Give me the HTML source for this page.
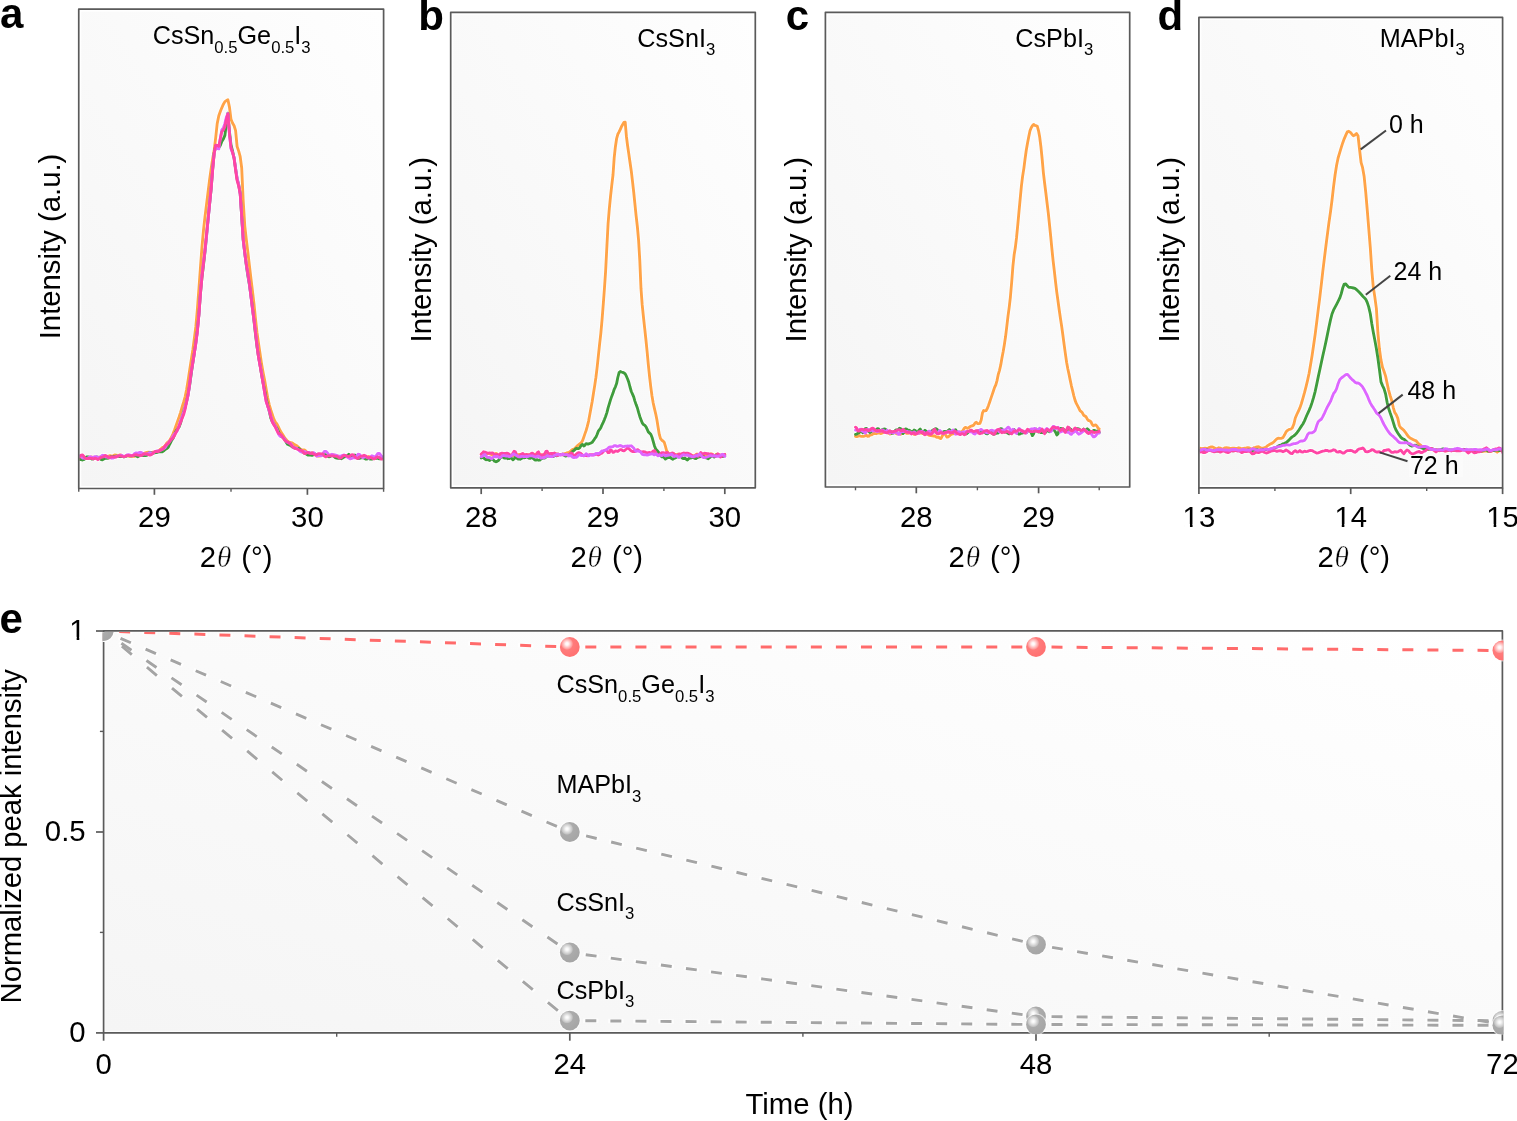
<!DOCTYPE html>
<html><head><meta charset="utf-8"><title>Figure</title><style>html,body{margin:0;padding:0;background:#ffffff;overflow:hidden}svg{display:block}text{fill:#000}</style></head><body>
<svg width="1517" height="1121" viewBox="0 0 1517 1121" font-family="'Liberation Sans', Arial, Helvetica, sans-serif">
<defs>
<linearGradient id="gp" x1="1" y1="0" x2="0" y2="1"><stop offset="0" stop-color="#fefefe"/><stop offset="1" stop-color="#f5f5f5"/></linearGradient>
<linearGradient id="ge" x1="1" y1="0" x2="0" y2="1"><stop offset="0" stop-color="#ffffff"/><stop offset="1" stop-color="#f5f5f5"/></linearGradient>
<radialGradient id="ballr" cx="0.36" cy="0.34" r="0.62" fx="0.36" fy="0.34"><stop offset="0" stop-color="#ffffff"/><stop offset="0.12" stop-color="#fff4f4"/><stop offset="0.42" stop-color="#ff9d9d"/><stop offset="0.5" stop-color="#ff7b7b"/><stop offset="1" stop-color="#ff7272"/></radialGradient>
<radialGradient id="ballg" cx="0.36" cy="0.34" r="0.62" fx="0.36" fy="0.34"><stop offset="0" stop-color="#ffffff"/><stop offset="0.12" stop-color="#f6f6f6"/><stop offset="0.42" stop-color="#c4c4c4"/><stop offset="0.5" stop-color="#ababab"/><stop offset="1" stop-color="#a6a6a6"/></radialGradient>
</defs>
<rect width="1517" height="1121" fill="#ffffff"/>
<defs>
<clipPath id="clipa"><rect x="79.55" y="9.95" width="303.25" height="477.75"/></clipPath>
<clipPath id="clipb"><rect x="451.50" y="13.10" width="303.00" height="473.90"/></clipPath>
<clipPath id="clipc"><rect x="826.20" y="13.10" width="302.70" height="473.10"/></clipPath>
<clipPath id="clipd"><rect x="1199.70" y="18.20" width="302.10" height="468.80"/></clipPath>
<clipPath id="clipe"><rect x="102.6" y="632.1" width="1400.8" height="402.2"/></clipPath>
</defs>
<rect x="81.25" y="11.65" width="299.85" height="474.35" fill="url(#gp)"/>
<rect x="453.20" y="14.80" width="299.60" height="470.50" fill="url(#gp)"/>
<rect x="827.90" y="14.80" width="299.30" height="469.70" fill="url(#gp)"/>
<rect x="1201.40" y="19.90" width="298.70" height="465.40" fill="url(#gp)"/>
<g clip-path="url(#clipa)" fill="none" stroke-linejoin="round" stroke-linecap="round">
<path d="M78.0 458.1 L79.5 458.9 L81.1 458.7 L82.6 457.6 L84.1 457.0 L85.7 457.3 L87.2 457.7 L88.7 457.9 L90.2 457.3 L91.8 457.0 L93.3 457.8 L94.8 458.1 L96.4 457.7 L97.9 457.3 L99.4 457.1 L101.0 457.7 L102.5 457.8 L104.0 457.2 L105.5 457.1 L107.1 457.1 L108.6 456.1 L110.1 455.7 L111.7 456.3 L113.2 455.8 L114.7 454.9 L116.3 455.2 L117.8 455.5 L119.3 455.0 L120.8 455.0 L122.4 456.1 L123.9 456.8 L125.4 456.0 L127.0 455.6 L128.5 456.2 L130.0 456.4 L131.6 456.0 L133.1 456.3 L134.6 456.3 L136.1 455.3 L137.7 454.7 L139.2 455.0 L140.7 455.5 L142.3 455.0 L143.8 453.6 L145.3 452.9 L146.9 452.5 L148.4 452.1 L149.9 452.7 L151.4 452.7 L153.0 452.1 L154.5 452.4 L156.0 452.0 L157.6 451.0 L159.1 450.4 L160.6 449.2 L162.2 447.7 L163.7 447.2 L165.2 445.7 L166.7 443.1 L168.3 441.7 L169.8 440.1 L171.3 437.6 L172.9 434.1 L174.4 430.3 L175.9 426.1 L177.5 421.6 L179.0 417.3 L180.5 412.6 L182.0 407.5 L183.6 402.2 L185.1 396.8 L186.6 389.5 L188.2 379.8 L189.7 369.8 L191.2 360.2 L192.8 350.0 L194.3 338.6 L195.8 326.9 L197.3 310.1 L198.9 288.9 L200.4 268.1 L201.9 247.7 L203.5 230.1 L205.0 216.7 L206.5 204.6 L208.1 191.7 L209.6 179.6 L211.1 168.9 L212.6 159.3 L214.2 150.0 L215.7 137.7 L217.2 123.6 L218.8 115.8 L220.3 111.6 L221.8 107.8 L223.4 104.2 L224.9 101.6 L226.4 100.6 L227.9 99.8 L229.5 107.4 L231.0 119.4 L232.5 123.0 L234.1 125.8 L235.6 130.6 L237.1 146.5 L238.7 151.1 L240.2 156.7 L241.7 168.0 L243.2 200.7 L244.8 226.1 L246.3 239.5 L247.8 251.6 L249.4 265.3 L250.9 278.1 L252.4 290.3 L254.0 303.8 L255.5 318.9 L257.0 332.4 L258.5 343.2 L260.1 354.0 L261.6 364.1 L263.1 372.5 L264.7 380.6 L266.2 389.2 L267.7 397.7 L269.3 404.8 L270.8 409.9 L272.3 414.5 L273.8 419.0 L275.4 422.2 L276.9 424.0 L278.4 426.9 L280.0 430.4 L281.5 432.7 L283.0 435.0 L284.6 437.5 L286.1 439.5 L287.6 441.1 L289.1 442.2 L290.7 442.6 L292.2 443.0 L293.7 444.0 L295.3 444.9 L296.8 445.8 L298.3 447.1 L299.9 448.7 L301.4 449.8 L302.9 449.9 L304.4 449.9 L306.0 451.2 L307.5 452.7 L309.0 453.5 L310.6 453.4 L312.1 452.6 L313.6 453.3 L315.2 455.0 L316.7 455.6 L318.2 456.2 L319.7 456.0 L321.3 454.8 L322.8 454.8 L324.3 455.5 L325.9 455.8 L327.4 455.8 L328.9 455.8 L330.5 455.2 L332.0 454.7 L333.5 454.9 L335.0 455.4 L336.6 455.7 L338.1 456.1 L339.6 456.8 L341.2 457.2 L342.7 457.0 L344.2 456.9 L345.8 456.6 L347.3 456.4 L348.8 456.4 L350.3 456.6 L351.9 457.1 L353.4 457.4 L354.9 457.1 L356.5 456.8 L358.0 457.2 L359.5 456.9 L361.1 456.6 L362.6 456.9 L364.1 457.2 L365.6 457.4 L367.2 457.0 L368.7 456.5 L370.2 457.3 L371.8 458.4 L373.3 457.9 L374.8 457.1 L376.4 457.0 L377.9 457.5 L379.4 458.1 L380.9 457.7 L382.5 458.0 L384.0 458.0 L385.0 457.2" stroke="#ffffff" stroke-opacity="0.75" stroke-width="4.65"/>
<path d="M78.0 458.8 L79.5 459.6 L81.1 459.7 L82.6 460.0 L84.1 459.5 L85.7 457.8 L87.2 456.8 L88.7 456.9 L90.2 458.1 L91.8 459.1 L93.3 458.9 L94.8 457.8 L96.4 456.9 L97.9 457.1 L99.4 458.1 L101.0 459.5 L102.5 459.8 L104.0 458.9 L105.5 458.3 L107.1 458.3 L108.6 458.1 L110.1 457.1 L111.7 456.6 L113.2 456.6 L114.7 456.3 L116.3 456.2 L117.8 456.3 L119.3 456.6 L120.8 456.7 L122.4 456.4 L123.9 456.8 L125.4 456.6 L127.0 455.7 L128.5 455.5 L130.0 455.9 L131.6 455.8 L133.1 455.3 L134.6 455.0 L136.1 455.8 L137.7 456.8 L139.2 455.9 L140.7 455.1 L142.3 455.5 L143.8 455.5 L145.3 455.5 L146.9 455.3 L148.4 453.7 L149.9 452.3 L151.4 452.9 L153.0 453.4 L154.5 452.8 L156.0 452.7 L157.6 452.4 L159.1 451.5 L160.6 451.8 L162.2 451.9 L163.7 450.8 L165.2 449.5 L166.7 448.6 L168.3 447.1 L169.8 444.0 L171.3 441.1 L172.9 438.6 L174.4 434.9 L175.9 431.3 L177.5 429.1 L179.0 427.2 L180.5 423.3 L182.0 417.3 L183.6 411.8 L185.1 407.2 L186.6 401.5 L188.2 394.1 L189.7 385.0 L191.2 374.3 L192.8 363.4 L194.3 353.3 L195.8 342.6 L197.3 330.9 L198.9 314.6 L200.4 294.2 L201.9 278.1 L203.5 265.0 L205.0 252.0 L206.5 236.3 L208.1 219.2 L209.6 204.0 L211.1 189.6 L212.6 170.1 L214.2 152.7 L215.7 146.2 L217.2 147.0 L218.8 147.7 L220.3 145.5 L221.8 141.4 L223.4 138.9 L224.9 135.4 L226.4 123.2 L227.9 113.1 L229.5 132.0 L231.0 144.9 L232.5 150.8 L234.1 158.1 L235.6 168.7 L237.1 178.8 L238.7 184.7 L240.2 193.5 L241.7 217.0 L243.2 240.4 L244.8 253.6 L246.3 265.4 L247.8 275.5 L249.4 284.7 L250.9 295.4 L252.4 307.5 L254.0 321.1 L255.5 334.5 L257.0 346.7 L258.5 356.6 L260.1 365.3 L261.6 374.7 L263.1 382.9 L264.7 390.7 L266.2 399.0 L267.7 405.3 L269.3 411.5 L270.8 418.1 L272.3 421.7 L273.8 424.1 L275.4 426.6 L276.9 428.3 L278.4 431.5 L280.0 435.3 L281.5 436.8 L283.0 437.4 L284.6 439.2 L286.1 442.2 L287.6 444.3 L289.1 445.0 L290.7 445.6 L292.2 446.9 L293.7 447.6 L295.3 448.2 L296.8 448.6 L298.3 448.3 L299.9 449.2 L301.4 451.3 L302.9 452.2 L304.4 452.4 L306.0 453.8 L307.5 455.0 L309.0 455.0 L310.6 455.0 L312.1 455.4 L313.6 454.8 L315.2 453.9 L316.7 454.8 L318.2 455.6 L319.7 454.9 L321.3 454.8 L322.8 454.9 L324.3 454.5 L325.9 454.8 L327.4 456.0 L328.9 456.8 L330.5 456.3 L332.0 455.4 L333.5 456.0 L335.0 457.4 L336.6 458.1 L338.1 458.3 L339.6 458.4 L341.2 458.7 L342.7 457.9 L344.2 456.8 L345.8 456.6 L347.3 455.7 L348.8 454.3 L350.3 455.8 L351.9 457.9 L353.4 456.4 L354.9 454.9 L356.5 456.7 L358.0 458.5 L359.5 458.3 L361.1 457.8 L362.6 457.6 L364.1 458.1 L365.6 459.1 L367.2 459.0 L368.7 458.5 L370.2 459.1 L371.8 459.2 L373.3 458.5 L374.8 458.4 L376.4 458.3 L377.9 458.3 L379.4 458.9 L380.9 458.5 L382.5 457.2 L384.0 456.4 L385.0 456.9" stroke="#ffffff" stroke-opacity="0.75" stroke-width="4.65"/>
<path d="M78.0 457.2 L79.5 455.6 L81.1 456.5 L82.6 458.0 L84.1 458.2 L85.7 458.6 L87.2 458.6 L88.7 457.5 L90.2 456.7 L91.8 457.3 L93.3 457.3 L94.8 456.6 L96.4 456.7 L97.9 457.5 L99.4 457.4 L101.0 456.3 L102.5 455.3 L104.0 455.4 L105.5 456.8 L107.1 457.2 L108.6 457.2 L110.1 457.6 L111.7 458.2 L113.2 458.0 L114.7 457.2 L116.3 456.6 L117.8 456.0 L119.3 455.7 L120.8 455.1 L122.4 455.7 L123.9 456.7 L125.4 456.1 L127.0 455.0 L128.5 454.6 L130.0 455.1 L131.6 455.7 L133.1 455.1 L134.6 453.5 L136.1 452.9 L137.7 453.2 L139.2 452.5 L140.7 452.3 L142.3 453.1 L143.8 453.9 L145.3 454.1 L146.9 453.9 L148.4 453.3 L149.9 452.6 L151.4 453.1 L153.0 453.2 L154.5 452.1 L156.0 451.2 L157.6 450.8 L159.1 450.7 L160.6 450.3 L162.2 449.4 L163.7 448.6 L165.2 447.5 L166.7 445.1 L168.3 442.7 L169.8 441.2 L171.3 439.4 L172.9 436.5 L174.4 434.1 L175.9 432.6 L177.5 430.4 L179.0 425.9 L180.5 420.7 L182.0 416.9 L183.6 412.6 L185.1 406.9 L186.6 401.7 L188.2 395.1 L189.7 384.1 L191.2 372.5 L192.8 362.7 L194.3 353.6 L195.8 343.6 L197.3 331.7 L198.9 314.5 L200.4 292.9 L201.9 274.9 L203.5 262.3 L205.0 251.4 L206.5 237.0 L208.1 220.1 L209.6 204.0 L211.1 188.2 L212.6 168.9 L214.2 153.1 L215.7 147.3 L217.2 148.3 L218.8 148.9 L220.3 138.4 L221.8 129.9 L223.4 127.8 L224.9 123.4 L226.4 117.0 L227.9 113.5 L229.5 134.3 L231.0 148.8 L232.5 152.7 L234.1 157.4 L235.6 168.2 L237.1 178.2 L238.7 184.6 L240.2 194.0 L241.7 216.2 L243.2 239.6 L244.8 253.5 L246.3 264.7 L247.8 274.4 L249.4 284.2 L250.9 296.2 L252.4 308.6 L254.0 319.8 L255.5 331.4 L257.0 344.7 L258.5 357.1 L260.1 365.7 L261.6 372.9 L263.1 382.6 L264.7 393.6 L266.2 401.7 L267.7 406.4 L269.3 411.2 L270.8 416.1 L272.3 420.6 L273.8 424.1 L275.4 426.4 L276.9 429.3 L278.4 433.9 L280.0 436.2 L281.5 436.5 L283.0 437.4 L284.6 439.0 L286.1 441.2 L287.6 442.5 L289.1 443.0 L290.7 443.5 L292.2 445.7 L293.7 447.8 L295.3 447.9 L296.8 448.4 L298.3 449.7 L299.9 451.2 L301.4 452.1 L302.9 451.7 L304.4 451.6 L306.0 452.2 L307.5 452.3 L309.0 452.4 L310.6 453.1 L312.1 453.2 L313.6 452.6 L315.2 454.1 L316.7 456.2 L318.2 455.6 L319.7 455.3 L321.3 455.9 L322.8 453.8 L324.3 451.4 L325.9 451.4 L327.4 452.8 L328.9 454.9 L330.5 455.1 L332.0 454.3 L333.5 454.9 L335.0 455.0 L336.6 455.4 L338.1 456.2 L339.6 456.2 L341.2 455.9 L342.7 455.4 L344.2 455.0 L345.8 455.9 L347.3 457.1 L348.8 458.1 L350.3 458.9 L351.9 458.2 L353.4 457.7 L354.9 457.8 L356.5 456.4 L358.0 454.2 L359.5 454.3 L361.1 456.6 L362.6 457.6 L364.1 457.1 L365.6 456.6 L367.2 457.4 L368.7 458.3 L370.2 457.1 L371.8 455.7 L373.3 456.4 L374.8 457.3 L376.4 455.4 L377.9 453.4 L379.4 453.4 L380.9 455.3 L382.5 457.2 L384.0 457.2 L385.0 456.6" stroke="#ffffff" stroke-opacity="0.75" stroke-width="4.65"/>
<path d="M78.0 458.0 L79.5 456.7 L81.1 455.1 L82.6 454.9 L84.1 456.9 L85.7 458.6 L87.2 458.4 L88.7 458.5 L90.2 458.3 L91.8 458.4 L93.3 459.0 L94.8 458.1 L96.4 458.6 L97.9 459.7 L99.4 458.5 L101.0 457.3 L102.5 457.1 L104.0 456.5 L105.5 455.4 L107.1 456.3 L108.6 457.9 L110.1 457.4 L111.7 456.7 L113.2 456.9 L114.7 457.0 L116.3 457.0 L117.8 456.3 L119.3 455.6 L120.8 456.0 L122.4 456.4 L123.9 456.7 L125.4 456.3 L127.0 455.6 L128.5 455.5 L130.0 455.6 L131.6 455.8 L133.1 455.5 L134.6 454.9 L136.1 454.7 L137.7 455.2 L139.2 455.4 L140.7 455.7 L142.3 455.1 L143.8 453.9 L145.3 453.9 L146.9 454.0 L148.4 454.6 L149.9 455.1 L151.4 454.6 L153.0 453.3 L154.5 451.7 L156.0 451.4 L157.6 451.7 L159.1 451.1 L160.6 449.9 L162.2 449.4 L163.7 448.1 L165.2 445.6 L166.7 444.5 L168.3 443.6 L169.8 441.2 L171.3 439.2 L172.9 438.2 L174.4 435.8 L175.9 432.6 L177.5 429.5 L179.0 426.2 L180.5 422.6 L182.0 418.8 L183.6 414.8 L185.1 409.4 L186.6 401.9 L188.2 393.6 L189.7 383.3 L191.2 372.0 L192.8 362.5 L194.3 353.6 L195.8 343.7 L197.3 332.3 L198.9 315.0 L200.4 294.4 L201.9 278.1 L203.5 263.3 L205.0 249.0 L206.5 234.5 L208.1 218.9 L209.6 203.5 L211.1 189.1 L212.6 171.0 L214.2 153.6 L215.7 145.1 L217.2 145.3 L218.8 146.3 L220.3 138.7 L221.8 131.8 L223.4 129.9 L224.9 126.6 L226.4 119.1 L227.9 113.9 L229.5 134.3 L231.0 147.7 L232.5 152.2 L234.1 158.7 L235.6 170.4 L237.1 180.7 L238.7 186.1 L240.2 194.0 L241.7 216.2 L243.2 239.2 L244.8 252.7 L246.3 263.8 L247.8 272.8 L249.4 283.1 L250.9 295.8 L252.4 307.7 L254.0 320.0 L255.5 333.2 L257.0 345.9 L258.5 357.0 L260.1 366.1 L261.6 374.9 L263.1 383.4 L264.7 392.9 L266.2 401.6 L267.7 405.9 L269.3 410.1 L270.8 416.6 L272.3 422.0 L273.8 424.8 L275.4 427.3 L276.9 430.6 L278.4 433.2 L280.0 434.0 L281.5 435.2 L283.0 437.8 L284.6 440.1 L286.1 441.3 L287.6 442.0 L289.1 442.7 L290.7 444.4 L292.2 446.3 L293.7 447.5 L295.3 448.5 L296.8 449.0 L298.3 449.5 L299.9 450.2 L301.4 450.4 L302.9 451.6 L304.4 453.6 L306.0 453.4 L307.5 452.4 L309.0 453.0 L310.6 453.3 L312.1 453.1 L313.6 453.9 L315.2 454.8 L316.7 454.8 L318.2 453.7 L319.7 453.7 L321.3 453.9 L322.8 454.0 L324.3 456.0 L325.9 456.9 L327.4 455.9 L328.9 455.7 L330.5 455.9 L332.0 455.9 L333.5 456.0 L335.0 456.2 L336.6 456.3 L338.1 457.1 L339.6 458.1 L341.2 457.8 L342.7 456.1 L344.2 455.4 L345.8 455.5 L347.3 456.2 L348.8 456.6 L350.3 455.6 L351.9 454.6 L353.4 455.0 L354.9 456.8 L356.5 458.3 L358.0 458.3 L359.5 457.1 L361.1 456.2 L362.6 455.9 L364.1 455.3 L365.6 455.8 L367.2 457.3 L368.7 457.6 L370.2 457.4 L371.8 457.8 L373.3 458.9 L374.8 458.8 L376.4 457.4 L377.9 456.9 L379.4 457.6 L380.9 459.0 L382.5 459.2 L384.0 459.1 L385.0 459.6" stroke="#ffffff" stroke-opacity="0.75" stroke-width="4.65"/>
<path d="M78.0 458.1 L79.5 458.9 L81.1 458.7 L82.6 457.6 L84.1 457.0 L85.7 457.3 L87.2 457.7 L88.7 457.9 L90.2 457.3 L91.8 457.0 L93.3 457.8 L94.8 458.1 L96.4 457.7 L97.9 457.3 L99.4 457.1 L101.0 457.7 L102.5 457.8 L104.0 457.2 L105.5 457.1 L107.1 457.1 L108.6 456.1 L110.1 455.7 L111.7 456.3 L113.2 455.8 L114.7 454.9 L116.3 455.2 L117.8 455.5 L119.3 455.0 L120.8 455.0 L122.4 456.1 L123.9 456.8 L125.4 456.0 L127.0 455.6 L128.5 456.2 L130.0 456.4 L131.6 456.0 L133.1 456.3 L134.6 456.3 L136.1 455.3 L137.7 454.7 L139.2 455.0 L140.7 455.5 L142.3 455.0 L143.8 453.6 L145.3 452.9 L146.9 452.5 L148.4 452.1 L149.9 452.7 L151.4 452.7 L153.0 452.1 L154.5 452.4 L156.0 452.0 L157.6 451.0 L159.1 450.4 L160.6 449.2 L162.2 447.7 L163.7 447.2 L165.2 445.7 L166.7 443.1 L168.3 441.7 L169.8 440.1 L171.3 437.6 L172.9 434.1 L174.4 430.3 L175.9 426.1 L177.5 421.6 L179.0 417.3 L180.5 412.6 L182.0 407.5 L183.6 402.2 L185.1 396.8 L186.6 389.5 L188.2 379.8 L189.7 369.8 L191.2 360.2 L192.8 350.0 L194.3 338.6 L195.8 326.9 L197.3 310.1 L198.9 288.9 L200.4 268.1 L201.9 247.7 L203.5 230.1 L205.0 216.7 L206.5 204.6 L208.1 191.7 L209.6 179.6 L211.1 168.9 L212.6 159.3 L214.2 150.0 L215.7 137.7 L217.2 123.6 L218.8 115.8 L220.3 111.6 L221.8 107.8 L223.4 104.2 L224.9 101.6 L226.4 100.6 L227.9 99.8 L229.5 107.4 L231.0 119.4 L232.5 123.0 L234.1 125.8 L235.6 130.6 L237.1 146.5 L238.7 151.1 L240.2 156.7 L241.7 168.0 L243.2 200.7 L244.8 226.1 L246.3 239.5 L247.8 251.6 L249.4 265.3 L250.9 278.1 L252.4 290.3 L254.0 303.8 L255.5 318.9 L257.0 332.4 L258.5 343.2 L260.1 354.0 L261.6 364.1 L263.1 372.5 L264.7 380.6 L266.2 389.2 L267.7 397.7 L269.3 404.8 L270.8 409.9 L272.3 414.5 L273.8 419.0 L275.4 422.2 L276.9 424.0 L278.4 426.9 L280.0 430.4 L281.5 432.7 L283.0 435.0 L284.6 437.5 L286.1 439.5 L287.6 441.1 L289.1 442.2 L290.7 442.6 L292.2 443.0 L293.7 444.0 L295.3 444.9 L296.8 445.8 L298.3 447.1 L299.9 448.7 L301.4 449.8 L302.9 449.9 L304.4 449.9 L306.0 451.2 L307.5 452.7 L309.0 453.5 L310.6 453.4 L312.1 452.6 L313.6 453.3 L315.2 455.0 L316.7 455.6 L318.2 456.2 L319.7 456.0 L321.3 454.8 L322.8 454.8 L324.3 455.5 L325.9 455.8 L327.4 455.8 L328.9 455.8 L330.5 455.2 L332.0 454.7 L333.5 454.9 L335.0 455.4 L336.6 455.7 L338.1 456.1 L339.6 456.8 L341.2 457.2 L342.7 457.0 L344.2 456.9 L345.8 456.6 L347.3 456.4 L348.8 456.4 L350.3 456.6 L351.9 457.1 L353.4 457.4 L354.9 457.1 L356.5 456.8 L358.0 457.2 L359.5 456.9 L361.1 456.6 L362.6 456.9 L364.1 457.2 L365.6 457.4 L367.2 457.0 L368.7 456.5 L370.2 457.3 L371.8 458.4 L373.3 457.9 L374.8 457.1 L376.4 457.0 L377.9 457.5 L379.4 458.1 L380.9 457.7 L382.5 458.0 L384.0 458.0 L385.0 457.2" stroke="#ffa347" stroke-width="2.85"/>
<path d="M78.0 458.8 L79.5 459.6 L81.1 459.7 L82.6 460.0 L84.1 459.5 L85.7 457.8 L87.2 456.8 L88.7 456.9 L90.2 458.1 L91.8 459.1 L93.3 458.9 L94.8 457.8 L96.4 456.9 L97.9 457.1 L99.4 458.1 L101.0 459.5 L102.5 459.8 L104.0 458.9 L105.5 458.3 L107.1 458.3 L108.6 458.1 L110.1 457.1 L111.7 456.6 L113.2 456.6 L114.7 456.3 L116.3 456.2 L117.8 456.3 L119.3 456.6 L120.8 456.7 L122.4 456.4 L123.9 456.8 L125.4 456.6 L127.0 455.7 L128.5 455.5 L130.0 455.9 L131.6 455.8 L133.1 455.3 L134.6 455.0 L136.1 455.8 L137.7 456.8 L139.2 455.9 L140.7 455.1 L142.3 455.5 L143.8 455.5 L145.3 455.5 L146.9 455.3 L148.4 453.7 L149.9 452.3 L151.4 452.9 L153.0 453.4 L154.5 452.8 L156.0 452.7 L157.6 452.4 L159.1 451.5 L160.6 451.8 L162.2 451.9 L163.7 450.8 L165.2 449.5 L166.7 448.6 L168.3 447.1 L169.8 444.0 L171.3 441.1 L172.9 438.6 L174.4 434.9 L175.9 431.3 L177.5 429.1 L179.0 427.2 L180.5 423.3 L182.0 417.3 L183.6 411.8 L185.1 407.2 L186.6 401.5 L188.2 394.1 L189.7 385.0 L191.2 374.3 L192.8 363.4 L194.3 353.3 L195.8 342.6 L197.3 330.9 L198.9 314.6 L200.4 294.2 L201.9 278.1 L203.5 265.0 L205.0 252.0 L206.5 236.3 L208.1 219.2 L209.6 204.0 L211.1 189.6 L212.6 170.1 L214.2 152.7 L215.7 146.2 L217.2 147.0 L218.8 147.7 L220.3 145.5 L221.8 141.4 L223.4 138.9 L224.9 135.4 L226.4 123.2 L227.9 113.1 L229.5 132.0 L231.0 144.9 L232.5 150.8 L234.1 158.1 L235.6 168.7 L237.1 178.8 L238.7 184.7 L240.2 193.5 L241.7 217.0 L243.2 240.4 L244.8 253.6 L246.3 265.4 L247.8 275.5 L249.4 284.7 L250.9 295.4 L252.4 307.5 L254.0 321.1 L255.5 334.5 L257.0 346.7 L258.5 356.6 L260.1 365.3 L261.6 374.7 L263.1 382.9 L264.7 390.7 L266.2 399.0 L267.7 405.3 L269.3 411.5 L270.8 418.1 L272.3 421.7 L273.8 424.1 L275.4 426.6 L276.9 428.3 L278.4 431.5 L280.0 435.3 L281.5 436.8 L283.0 437.4 L284.6 439.2 L286.1 442.2 L287.6 444.3 L289.1 445.0 L290.7 445.6 L292.2 446.9 L293.7 447.6 L295.3 448.2 L296.8 448.6 L298.3 448.3 L299.9 449.2 L301.4 451.3 L302.9 452.2 L304.4 452.4 L306.0 453.8 L307.5 455.0 L309.0 455.0 L310.6 455.0 L312.1 455.4 L313.6 454.8 L315.2 453.9 L316.7 454.8 L318.2 455.6 L319.7 454.9 L321.3 454.8 L322.8 454.9 L324.3 454.5 L325.9 454.8 L327.4 456.0 L328.9 456.8 L330.5 456.3 L332.0 455.4 L333.5 456.0 L335.0 457.4 L336.6 458.1 L338.1 458.3 L339.6 458.4 L341.2 458.7 L342.7 457.9 L344.2 456.8 L345.8 456.6 L347.3 455.7 L348.8 454.3 L350.3 455.8 L351.9 457.9 L353.4 456.4 L354.9 454.9 L356.5 456.7 L358.0 458.5 L359.5 458.3 L361.1 457.8 L362.6 457.6 L364.1 458.1 L365.6 459.1 L367.2 459.0 L368.7 458.5 L370.2 459.1 L371.8 459.2 L373.3 458.5 L374.8 458.4 L376.4 458.3 L377.9 458.3 L379.4 458.9 L380.9 458.5 L382.5 457.2 L384.0 456.4 L385.0 456.9" stroke="#3f9c3c" stroke-width="2.85"/>
<path d="M78.0 457.2 L79.5 455.6 L81.1 456.5 L82.6 458.0 L84.1 458.2 L85.7 458.6 L87.2 458.6 L88.7 457.5 L90.2 456.7 L91.8 457.3 L93.3 457.3 L94.8 456.6 L96.4 456.7 L97.9 457.5 L99.4 457.4 L101.0 456.3 L102.5 455.3 L104.0 455.4 L105.5 456.8 L107.1 457.2 L108.6 457.2 L110.1 457.6 L111.7 458.2 L113.2 458.0 L114.7 457.2 L116.3 456.6 L117.8 456.0 L119.3 455.7 L120.8 455.1 L122.4 455.7 L123.9 456.7 L125.4 456.1 L127.0 455.0 L128.5 454.6 L130.0 455.1 L131.6 455.7 L133.1 455.1 L134.6 453.5 L136.1 452.9 L137.7 453.2 L139.2 452.5 L140.7 452.3 L142.3 453.1 L143.8 453.9 L145.3 454.1 L146.9 453.9 L148.4 453.3 L149.9 452.6 L151.4 453.1 L153.0 453.2 L154.5 452.1 L156.0 451.2 L157.6 450.8 L159.1 450.7 L160.6 450.3 L162.2 449.4 L163.7 448.6 L165.2 447.5 L166.7 445.1 L168.3 442.7 L169.8 441.2 L171.3 439.4 L172.9 436.5 L174.4 434.1 L175.9 432.6 L177.5 430.4 L179.0 425.9 L180.5 420.7 L182.0 416.9 L183.6 412.6 L185.1 406.9 L186.6 401.7 L188.2 395.1 L189.7 384.1 L191.2 372.5 L192.8 362.7 L194.3 353.6 L195.8 343.6 L197.3 331.7 L198.9 314.5 L200.4 292.9 L201.9 274.9 L203.5 262.3 L205.0 251.4 L206.5 237.0 L208.1 220.1 L209.6 204.0 L211.1 188.2 L212.6 168.9 L214.2 153.1 L215.7 147.3 L217.2 148.3 L218.8 148.9 L220.3 138.4 L221.8 129.9 L223.4 127.8 L224.9 123.4 L226.4 117.0 L227.9 113.5 L229.5 134.3 L231.0 148.8 L232.5 152.7 L234.1 157.4 L235.6 168.2 L237.1 178.2 L238.7 184.6 L240.2 194.0 L241.7 216.2 L243.2 239.6 L244.8 253.5 L246.3 264.7 L247.8 274.4 L249.4 284.2 L250.9 296.2 L252.4 308.6 L254.0 319.8 L255.5 331.4 L257.0 344.7 L258.5 357.1 L260.1 365.7 L261.6 372.9 L263.1 382.6 L264.7 393.6 L266.2 401.7 L267.7 406.4 L269.3 411.2 L270.8 416.1 L272.3 420.6 L273.8 424.1 L275.4 426.4 L276.9 429.3 L278.4 433.9 L280.0 436.2 L281.5 436.5 L283.0 437.4 L284.6 439.0 L286.1 441.2 L287.6 442.5 L289.1 443.0 L290.7 443.5 L292.2 445.7 L293.7 447.8 L295.3 447.9 L296.8 448.4 L298.3 449.7 L299.9 451.2 L301.4 452.1 L302.9 451.7 L304.4 451.6 L306.0 452.2 L307.5 452.3 L309.0 452.4 L310.6 453.1 L312.1 453.2 L313.6 452.6 L315.2 454.1 L316.7 456.2 L318.2 455.6 L319.7 455.3 L321.3 455.9 L322.8 453.8 L324.3 451.4 L325.9 451.4 L327.4 452.8 L328.9 454.9 L330.5 455.1 L332.0 454.3 L333.5 454.9 L335.0 455.0 L336.6 455.4 L338.1 456.2 L339.6 456.2 L341.2 455.9 L342.7 455.4 L344.2 455.0 L345.8 455.9 L347.3 457.1 L348.8 458.1 L350.3 458.9 L351.9 458.2 L353.4 457.7 L354.9 457.8 L356.5 456.4 L358.0 454.2 L359.5 454.3 L361.1 456.6 L362.6 457.6 L364.1 457.1 L365.6 456.6 L367.2 457.4 L368.7 458.3 L370.2 457.1 L371.8 455.7 L373.3 456.4 L374.8 457.3 L376.4 455.4 L377.9 453.4 L379.4 453.4 L380.9 455.3 L382.5 457.2 L384.0 457.2 L385.0 456.6" stroke="#dd66ff" stroke-width="2.85"/>
<path d="M78.0 458.0 L79.5 456.7 L81.1 455.1 L82.6 454.9 L84.1 456.9 L85.7 458.6 L87.2 458.4 L88.7 458.5 L90.2 458.3 L91.8 458.4 L93.3 459.0 L94.8 458.1 L96.4 458.6 L97.9 459.7 L99.4 458.5 L101.0 457.3 L102.5 457.1 L104.0 456.5 L105.5 455.4 L107.1 456.3 L108.6 457.9 L110.1 457.4 L111.7 456.7 L113.2 456.9 L114.7 457.0 L116.3 457.0 L117.8 456.3 L119.3 455.6 L120.8 456.0 L122.4 456.4 L123.9 456.7 L125.4 456.3 L127.0 455.6 L128.5 455.5 L130.0 455.6 L131.6 455.8 L133.1 455.5 L134.6 454.9 L136.1 454.7 L137.7 455.2 L139.2 455.4 L140.7 455.7 L142.3 455.1 L143.8 453.9 L145.3 453.9 L146.9 454.0 L148.4 454.6 L149.9 455.1 L151.4 454.6 L153.0 453.3 L154.5 451.7 L156.0 451.4 L157.6 451.7 L159.1 451.1 L160.6 449.9 L162.2 449.4 L163.7 448.1 L165.2 445.6 L166.7 444.5 L168.3 443.6 L169.8 441.2 L171.3 439.2 L172.9 438.2 L174.4 435.8 L175.9 432.6 L177.5 429.5 L179.0 426.2 L180.5 422.6 L182.0 418.8 L183.6 414.8 L185.1 409.4 L186.6 401.9 L188.2 393.6 L189.7 383.3 L191.2 372.0 L192.8 362.5 L194.3 353.6 L195.8 343.7 L197.3 332.3 L198.9 315.0 L200.4 294.4 L201.9 278.1 L203.5 263.3 L205.0 249.0 L206.5 234.5 L208.1 218.9 L209.6 203.5 L211.1 189.1 L212.6 171.0 L214.2 153.6 L215.7 145.1 L217.2 145.3 L218.8 146.3 L220.3 138.7 L221.8 131.8 L223.4 129.9 L224.9 126.6 L226.4 119.1 L227.9 113.9 L229.5 134.3 L231.0 147.7 L232.5 152.2 L234.1 158.7 L235.6 170.4 L237.1 180.7 L238.7 186.1 L240.2 194.0 L241.7 216.2 L243.2 239.2 L244.8 252.7 L246.3 263.8 L247.8 272.8 L249.4 283.1 L250.9 295.8 L252.4 307.7 L254.0 320.0 L255.5 333.2 L257.0 345.9 L258.5 357.0 L260.1 366.1 L261.6 374.9 L263.1 383.4 L264.7 392.9 L266.2 401.6 L267.7 405.9 L269.3 410.1 L270.8 416.6 L272.3 422.0 L273.8 424.8 L275.4 427.3 L276.9 430.6 L278.4 433.2 L280.0 434.0 L281.5 435.2 L283.0 437.8 L284.6 440.1 L286.1 441.3 L287.6 442.0 L289.1 442.7 L290.7 444.4 L292.2 446.3 L293.7 447.5 L295.3 448.5 L296.8 449.0 L298.3 449.5 L299.9 450.2 L301.4 450.4 L302.9 451.6 L304.4 453.6 L306.0 453.4 L307.5 452.4 L309.0 453.0 L310.6 453.3 L312.1 453.1 L313.6 453.9 L315.2 454.8 L316.7 454.8 L318.2 453.7 L319.7 453.7 L321.3 453.9 L322.8 454.0 L324.3 456.0 L325.9 456.9 L327.4 455.9 L328.9 455.7 L330.5 455.9 L332.0 455.9 L333.5 456.0 L335.0 456.2 L336.6 456.3 L338.1 457.1 L339.6 458.1 L341.2 457.8 L342.7 456.1 L344.2 455.4 L345.8 455.5 L347.3 456.2 L348.8 456.6 L350.3 455.6 L351.9 454.6 L353.4 455.0 L354.9 456.8 L356.5 458.3 L358.0 458.3 L359.5 457.1 L361.1 456.2 L362.6 455.9 L364.1 455.3 L365.6 455.8 L367.2 457.3 L368.7 457.6 L370.2 457.4 L371.8 457.8 L373.3 458.9 L374.8 458.8 L376.4 457.4 L377.9 456.9 L379.4 457.6 L380.9 459.0 L382.5 459.2 L384.0 459.1 L385.0 459.6" stroke="#ff45a5" stroke-width="2.85"/>
</g>
<g clip-path="url(#clipb)" fill="none" stroke-linejoin="round" stroke-linecap="round">
<path d="M481.2 454.6 L482.4 454.5 L483.6 454.0 L484.9 454.6 L486.1 454.4 L487.3 453.6 L488.5 453.4 L489.7 453.5 L491.0 454.2 L492.2 455.0 L493.4 455.2 L494.6 454.6 L495.8 453.5 L497.1 453.8 L498.3 455.3 L499.5 456.2 L500.7 456.5 L501.9 455.7 L503.2 454.9 L504.4 455.4 L505.6 455.6 L506.8 454.9 L508.0 454.5 L509.3 454.7 L510.5 455.1 L511.7 455.4 L512.9 455.7 L514.1 455.6 L515.4 455.1 L516.6 455.2 L517.8 455.2 L519.0 454.4 L520.2 454.4 L521.5 455.4 L522.7 455.5 L523.9 455.1 L525.1 455.0 L526.3 454.8 L527.6 454.7 L528.8 454.7 L530.0 455.1 L531.2 455.4 L532.4 455.2 L533.7 455.0 L534.9 454.5 L536.1 454.0 L537.3 454.0 L538.5 454.4 L539.8 454.7 L541.0 454.6 L542.2 454.9 L543.4 455.7 L544.6 455.4 L545.9 454.6 L547.1 454.4 L548.3 453.8 L549.5 453.6 L550.7 454.2 L552.0 454.2 L553.2 453.7 L554.4 453.8 L555.6 454.0 L556.8 453.8 L558.1 453.9 L559.3 454.7 L560.5 454.8 L561.7 454.3 L562.9 454.0 L564.2 453.8 L565.4 453.5 L566.6 453.0 L567.8 452.7 L569.0 452.4 L570.3 451.4 L571.5 450.2 L572.7 449.4 L573.9 449.1 L575.1 448.3 L576.4 446.8 L577.6 445.6 L578.8 444.6 L580.0 443.6 L581.2 442.8 L582.5 440.7 L583.7 437.4 L584.9 433.9 L586.1 430.5 L587.3 426.4 L588.6 421.1 L589.8 414.5 L591.0 407.9 L592.2 401.5 L593.4 393.8 L594.7 385.6 L595.9 377.5 L597.1 367.6 L598.3 356.4 L599.5 345.2 L600.8 333.6 L602.0 320.3 L603.2 305.1 L604.4 289.0 L605.6 271.3 L606.9 246.1 L608.1 223.4 L609.3 208.8 L610.5 196.6 L611.7 185.9 L613.0 175.0 L614.2 157.6 L615.4 146.7 L616.6 138.7 L617.8 134.3 L619.1 131.9 L620.3 129.3 L621.5 126.6 L622.7 124.6 L623.9 122.5 L625.2 122.2 L626.4 136.2 L627.6 145.7 L628.8 153.9 L630.0 162.2 L631.3 171.2 L632.5 181.3 L633.7 192.0 L634.9 203.9 L636.1 215.6 L637.4 227.0 L638.6 240.3 L639.8 260.6 L641.0 288.7 L642.2 304.9 L643.5 317.5 L644.7 328.3 L645.9 339.5 L647.1 351.4 L648.3 364.3 L649.6 376.8 L650.8 387.1 L652.0 396.0 L653.2 403.0 L654.4 408.4 L655.7 413.8 L656.9 419.8 L658.1 427.2 L659.3 434.4 L660.5 438.6 L661.8 440.2 L663.0 441.0 L664.2 442.2 L665.4 446.2 L666.6 450.6 L667.9 452.7 L669.1 454.1 L670.3 454.4 L671.5 454.4 L672.7 453.8 L674.0 453.9 L675.2 454.8 L676.4 454.7 L677.6 454.2 L678.8 454.1 L680.1 454.5 L681.3 455.1 L682.5 455.1 L683.7 454.7 L684.9 454.7 L686.2 454.7 L687.4 454.8 L688.6 454.8 L689.8 454.8 L691.0 455.1 L692.3 455.4 L693.5 455.6 L694.7 455.6 L695.9 454.7 L697.1 454.0 L698.4 454.4 L699.6 455.0 L700.8 455.2 L702.0 455.5 L703.2 455.5 L704.5 455.1 L705.7 454.6 L706.9 454.7 L708.1 455.2 L709.3 454.8 L710.6 454.0 L711.8 453.9 L713.0 454.8 L714.2 455.8 L715.4 455.2 L716.7 454.1 L717.9 454.3 L719.1 455.0 L720.3 455.2 L721.5 454.8 L722.8 454.4 L724.0 454.4 L724.8 454.3" stroke="#ffffff" stroke-opacity="0.75" stroke-width="4.65"/>
<path d="M481.2 458.0 L482.4 457.5 L483.6 457.7 L484.9 459.1 L486.1 459.8 L487.3 459.1 L488.5 460.0 L489.7 460.6 L491.0 459.3 L492.2 458.8 L493.4 459.8 L494.6 461.3 L495.8 461.8 L497.1 461.4 L498.3 460.6 L499.5 458.9 L500.7 457.4 L501.9 456.7 L503.2 457.1 L504.4 458.1 L505.6 458.2 L506.8 458.0 L508.0 458.7 L509.3 458.5 L510.5 457.6 L511.7 458.4 L512.9 459.8 L514.1 458.9 L515.4 457.2 L516.6 457.8 L517.8 459.0 L519.0 458.8 L520.2 459.3 L521.5 458.6 L522.7 457.1 L523.9 457.9 L525.1 457.7 L526.3 456.6 L527.6 457.1 L528.8 458.1 L530.0 458.4 L531.2 457.8 L532.4 457.7 L533.7 458.9 L534.9 460.0 L536.1 460.0 L537.3 459.7 L538.5 460.2 L539.8 460.1 L541.0 459.0 L542.2 458.4 L543.4 458.2 L544.6 458.1 L545.9 457.2 L547.1 455.7 L548.3 456.0 L549.5 456.1 L550.7 454.4 L552.0 455.1 L553.2 456.6 L554.4 455.8 L555.6 455.4 L556.8 455.8 L558.1 455.1 L559.3 454.4 L560.5 454.4 L561.7 454.4 L562.9 454.3 L564.2 455.3 L565.4 456.0 L566.6 455.8 L567.8 455.6 L569.0 455.0 L570.3 454.0 L571.5 452.6 L572.7 451.2 L573.9 450.5 L575.1 449.4 L576.4 448.3 L577.6 448.6 L578.8 448.6 L580.0 447.4 L581.2 445.3 L582.5 444.4 L583.7 446.0 L584.9 445.2 L586.1 443.6 L587.3 444.0 L588.6 444.0 L589.8 443.5 L591.0 443.0 L592.2 442.3 L593.4 440.7 L594.7 438.7 L595.9 437.2 L597.1 434.5 L598.3 431.2 L599.5 429.7 L600.8 427.8 L602.0 424.8 L603.2 422.3 L604.4 419.6 L605.6 416.5 L606.9 412.6 L608.1 407.9 L609.3 403.9 L610.5 399.9 L611.7 396.4 L613.0 393.1 L614.2 389.3 L615.4 386.8 L616.6 383.6 L617.8 377.5 L619.1 372.6 L620.3 371.5 L621.5 372.0 L622.7 372.4 L623.9 372.8 L625.2 373.9 L626.4 376.2 L627.6 379.0 L628.8 382.3 L630.0 387.0 L631.3 391.5 L632.5 394.1 L633.7 396.9 L634.9 401.1 L636.1 404.6 L637.4 408.0 L638.6 412.4 L639.8 416.4 L641.0 419.7 L642.2 422.8 L643.5 424.6 L644.7 425.2 L645.9 426.6 L647.1 429.2 L648.3 431.9 L649.6 433.1 L650.8 434.2 L652.0 437.2 L653.2 441.4 L654.4 445.7 L655.7 449.1 L656.9 450.3 L658.1 451.7 L659.3 453.3 L660.5 455.3 L661.8 456.9 L663.0 456.7 L664.2 457.5 L665.4 459.0 L666.6 458.1 L667.9 457.6 L669.1 457.5 L670.3 457.3 L671.5 458.6 L672.7 459.2 L674.0 458.4 L675.2 457.9 L676.4 457.2 L677.6 456.6 L678.8 457.0 L680.1 456.7 L681.3 456.9 L682.5 458.3 L683.7 458.6 L684.9 458.1 L686.2 459.3 L687.4 460.0 L688.6 458.8 L689.8 458.1 L691.0 458.0 L692.3 457.4 L693.5 457.4 L694.7 458.4 L695.9 458.6 L697.1 457.6 L698.4 457.1 L699.6 456.8 L700.8 456.5 L702.0 456.0 L703.2 456.4 L704.5 457.6 L705.7 457.6 L706.9 458.1 L708.1 458.7 L709.3 457.9 L710.6 456.9 L711.8 456.0 L713.0 456.2 L714.2 457.1 L715.4 456.3 L716.7 454.8 L717.9 454.9 L719.1 455.8 L720.3 456.0 L721.5 456.6 L722.8 456.5 L724.0 455.9 L724.8 455.8" stroke="#ffffff" stroke-opacity="0.75" stroke-width="4.65"/>
<path d="M481.2 454.2 L482.4 453.2 L483.6 451.8 L484.9 452.1 L486.1 452.6 L487.3 453.1 L488.5 453.2 L489.7 452.9 L491.0 453.3 L492.2 452.9 L493.4 453.4 L494.6 454.8 L495.8 454.6 L497.1 454.4 L498.3 455.5 L499.5 454.7 L500.7 453.3 L501.9 453.2 L503.2 453.5 L504.4 453.5 L505.6 453.3 L506.8 453.1 L508.0 453.3 L509.3 454.6 L510.5 455.7 L511.7 455.4 L512.9 453.3 L514.1 451.3 L515.4 451.9 L516.6 454.5 L517.8 456.5 L519.0 456.6 L520.2 455.6 L521.5 454.0 L522.7 453.4 L523.9 454.5 L525.1 455.2 L526.3 454.4 L527.6 454.8 L528.8 455.6 L530.0 454.5 L531.2 453.5 L532.4 453.2 L533.7 454.2 L534.9 456.0 L536.1 455.6 L537.3 452.7 L538.5 451.8 L539.8 454.8 L541.0 456.3 L542.2 455.0 L543.4 454.7 L544.6 453.9 L545.9 451.4 L547.1 451.1 L548.3 453.7 L549.5 454.6 L550.7 453.5 L552.0 453.4 L553.2 453.5 L554.4 453.0 L555.6 453.8 L556.8 455.5 L558.1 455.4 L559.3 454.5 L560.5 454.6 L561.7 454.9 L562.9 454.8 L564.2 454.6 L565.4 454.6 L566.6 454.9 L567.8 455.2 L569.0 454.7 L570.3 453.5 L571.5 453.0 L572.7 454.3 L573.9 455.8 L575.1 455.3 L576.4 454.0 L577.6 453.0 L578.8 452.6 L580.0 453.0 L581.2 453.8 L582.5 454.9 L583.7 455.8 L584.9 455.6 L586.1 455.7 L587.3 455.8 L588.6 455.2 L589.8 454.6 L591.0 454.7 L592.2 454.7 L593.4 454.7 L594.7 454.7 L595.9 454.0 L597.1 454.3 L598.3 455.0 L599.5 454.4 L600.8 453.5 L602.0 453.1 L603.2 451.8 L604.4 450.5 L605.6 450.2 L606.9 450.7 L608.1 452.7 L609.3 452.6 L610.5 449.9 L611.7 450.5 L613.0 452.3 L614.2 452.0 L615.4 451.0 L616.6 451.1 L617.8 451.5 L619.1 450.4 L620.3 449.6 L621.5 449.7 L622.7 450.7 L623.9 450.9 L625.2 450.0 L626.4 449.0 L627.6 447.9 L628.8 448.5 L630.0 449.8 L631.3 450.9 L632.5 451.5 L633.7 451.5 L634.9 451.6 L636.1 450.5 L637.4 449.6 L638.6 450.3 L639.8 451.2 L641.0 452.0 L642.2 452.0 L643.5 451.7 L644.7 451.9 L645.9 452.4 L647.1 453.0 L648.3 452.7 L649.6 452.5 L650.8 453.2 L652.0 452.5 L653.2 451.0 L654.4 450.5 L655.7 452.5 L656.9 454.8 L658.1 455.1 L659.3 454.6 L660.5 453.7 L661.8 452.7 L663.0 452.6 L664.2 453.1 L665.4 453.0 L666.6 452.4 L667.9 452.9 L669.1 454.0 L670.3 454.0 L671.5 453.2 L672.7 453.0 L674.0 453.7 L675.2 454.8 L676.4 455.4 L677.6 455.1 L678.8 454.2 L680.1 454.0 L681.3 454.4 L682.5 453.4 L683.7 453.0 L684.9 453.3 L686.2 453.1 L687.4 453.1 L688.6 453.4 L689.8 454.0 L691.0 454.9 L692.3 455.9 L693.5 456.7 L694.7 456.7 L695.9 455.1 L697.1 454.7 L698.4 456.3 L699.6 454.6 L700.8 452.4 L702.0 453.7 L703.2 454.2 L704.5 453.2 L705.7 453.4 L706.9 453.7 L708.1 453.7 L709.3 454.1 L710.6 454.2 L711.8 454.4 L713.0 454.9 L714.2 455.8 L715.4 456.4 L716.7 455.3 L717.9 453.8 L719.1 454.9 L720.3 457.0 L721.5 456.7 L722.8 454.9 L724.0 454.6 L724.8 454.5" stroke="#ffffff" stroke-opacity="0.75" stroke-width="4.65"/>
<path d="M481.2 456.7 L482.4 456.3 L483.6 455.1 L484.9 454.5 L486.1 455.9 L487.3 457.4 L488.5 457.3 L489.7 457.1 L491.0 458.5 L492.2 458.5 L493.4 456.8 L494.6 456.4 L495.8 456.8 L497.1 456.5 L498.3 456.8 L499.5 457.7 L500.7 457.4 L501.9 456.1 L503.2 455.4 L504.4 455.6 L505.6 456.0 L506.8 456.0 L508.0 456.2 L509.3 456.6 L510.5 456.4 L511.7 455.4 L512.9 454.1 L514.1 454.0 L515.4 455.1 L516.6 455.7 L517.8 456.1 L519.0 456.9 L520.2 456.8 L521.5 456.3 L522.7 456.3 L523.9 456.7 L525.1 456.6 L526.3 456.4 L527.6 456.6 L528.8 456.1 L530.0 455.9 L531.2 455.8 L532.4 455.9 L533.7 456.4 L534.9 456.8 L536.1 456.9 L537.3 456.2 L538.5 456.2 L539.8 457.2 L541.0 458.2 L542.2 458.0 L543.4 457.5 L544.6 457.5 L545.9 456.7 L547.1 455.5 L548.3 456.1 L549.5 456.5 L550.7 456.3 L552.0 456.7 L553.2 456.2 L554.4 455.4 L555.6 455.1 L556.8 454.3 L558.1 454.0 L559.3 454.7 L560.5 455.1 L561.7 454.3 L562.9 454.0 L564.2 454.9 L565.4 454.9 L566.6 454.5 L567.8 455.1 L569.0 456.0 L570.3 455.6 L571.5 455.9 L572.7 457.4 L573.9 457.5 L575.1 457.3 L576.4 457.3 L577.6 456.4 L578.8 454.9 L580.0 454.7 L581.2 455.5 L582.5 455.4 L583.7 455.6 L584.9 455.1 L586.1 453.7 L587.3 454.6 L588.6 455.9 L589.8 455.2 L591.0 454.9 L592.2 455.2 L593.4 455.1 L594.7 454.3 L595.9 453.6 L597.1 453.4 L598.3 453.5 L599.5 453.3 L600.8 452.0 L602.0 450.9 L603.2 450.8 L604.4 450.7 L605.6 450.1 L606.9 449.3 L608.1 448.2 L609.3 447.2 L610.5 446.9 L611.7 447.0 L613.0 446.6 L614.2 445.6 L615.4 445.6 L616.6 446.3 L617.8 446.4 L619.1 445.8 L620.3 445.5 L621.5 445.9 L622.7 446.6 L623.9 446.6 L625.2 446.2 L626.4 446.1 L627.6 446.0 L628.8 446.2 L630.0 445.9 L631.3 445.8 L632.5 446.9 L633.7 448.1 L634.9 450.0 L636.1 451.4 L637.4 451.0 L638.6 451.2 L639.8 451.6 L641.0 452.4 L642.2 454.3 L643.5 454.7 L644.7 454.7 L645.9 454.9 L647.1 455.1 L648.3 454.9 L649.6 454.3 L650.8 454.1 L652.0 453.7 L653.2 454.2 L654.4 454.9 L655.7 453.9 L656.9 454.3 L658.1 455.8 L659.3 455.2 L660.5 455.2 L661.8 455.8 L663.0 454.7 L664.2 454.8 L665.4 456.0 L666.6 455.6 L667.9 455.0 L669.1 455.1 L670.3 454.8 L671.5 454.2 L672.7 455.1 L674.0 456.5 L675.2 456.2 L676.4 455.6 L677.6 456.6 L678.8 457.4 L680.1 456.7 L681.3 456.1 L682.5 455.0 L683.7 454.6 L684.9 455.4 L686.2 455.2 L687.4 455.0 L688.6 455.7 L689.8 456.0 L691.0 456.4 L692.3 456.9 L693.5 456.7 L694.7 455.8 L695.9 455.7 L697.1 456.0 L698.4 454.8 L699.6 453.8 L700.8 455.2 L702.0 456.7 L703.2 457.4 L704.5 457.7 L705.7 457.4 L706.9 457.0 L708.1 456.6 L709.3 456.0 L710.6 455.7 L711.8 456.0 L713.0 456.1 L714.2 455.7 L715.4 455.9 L716.7 456.4 L717.9 456.3 L719.1 456.0 L720.3 455.5 L721.5 454.7 L722.8 454.3 L724.0 455.3 L724.8 456.4" stroke="#ffffff" stroke-opacity="0.75" stroke-width="4.65"/>
<path d="M481.2 454.6 L482.4 454.5 L483.6 454.0 L484.9 454.6 L486.1 454.4 L487.3 453.6 L488.5 453.4 L489.7 453.5 L491.0 454.2 L492.2 455.0 L493.4 455.2 L494.6 454.6 L495.8 453.5 L497.1 453.8 L498.3 455.3 L499.5 456.2 L500.7 456.5 L501.9 455.7 L503.2 454.9 L504.4 455.4 L505.6 455.6 L506.8 454.9 L508.0 454.5 L509.3 454.7 L510.5 455.1 L511.7 455.4 L512.9 455.7 L514.1 455.6 L515.4 455.1 L516.6 455.2 L517.8 455.2 L519.0 454.4 L520.2 454.4 L521.5 455.4 L522.7 455.5 L523.9 455.1 L525.1 455.0 L526.3 454.8 L527.6 454.7 L528.8 454.7 L530.0 455.1 L531.2 455.4 L532.4 455.2 L533.7 455.0 L534.9 454.5 L536.1 454.0 L537.3 454.0 L538.5 454.4 L539.8 454.7 L541.0 454.6 L542.2 454.9 L543.4 455.7 L544.6 455.4 L545.9 454.6 L547.1 454.4 L548.3 453.8 L549.5 453.6 L550.7 454.2 L552.0 454.2 L553.2 453.7 L554.4 453.8 L555.6 454.0 L556.8 453.8 L558.1 453.9 L559.3 454.7 L560.5 454.8 L561.7 454.3 L562.9 454.0 L564.2 453.8 L565.4 453.5 L566.6 453.0 L567.8 452.7 L569.0 452.4 L570.3 451.4 L571.5 450.2 L572.7 449.4 L573.9 449.1 L575.1 448.3 L576.4 446.8 L577.6 445.6 L578.8 444.6 L580.0 443.6 L581.2 442.8 L582.5 440.7 L583.7 437.4 L584.9 433.9 L586.1 430.5 L587.3 426.4 L588.6 421.1 L589.8 414.5 L591.0 407.9 L592.2 401.5 L593.4 393.8 L594.7 385.6 L595.9 377.5 L597.1 367.6 L598.3 356.4 L599.5 345.2 L600.8 333.6 L602.0 320.3 L603.2 305.1 L604.4 289.0 L605.6 271.3 L606.9 246.1 L608.1 223.4 L609.3 208.8 L610.5 196.6 L611.7 185.9 L613.0 175.0 L614.2 157.6 L615.4 146.7 L616.6 138.7 L617.8 134.3 L619.1 131.9 L620.3 129.3 L621.5 126.6 L622.7 124.6 L623.9 122.5 L625.2 122.2 L626.4 136.2 L627.6 145.7 L628.8 153.9 L630.0 162.2 L631.3 171.2 L632.5 181.3 L633.7 192.0 L634.9 203.9 L636.1 215.6 L637.4 227.0 L638.6 240.3 L639.8 260.6 L641.0 288.7 L642.2 304.9 L643.5 317.5 L644.7 328.3 L645.9 339.5 L647.1 351.4 L648.3 364.3 L649.6 376.8 L650.8 387.1 L652.0 396.0 L653.2 403.0 L654.4 408.4 L655.7 413.8 L656.9 419.8 L658.1 427.2 L659.3 434.4 L660.5 438.6 L661.8 440.2 L663.0 441.0 L664.2 442.2 L665.4 446.2 L666.6 450.6 L667.9 452.7 L669.1 454.1 L670.3 454.4 L671.5 454.4 L672.7 453.8 L674.0 453.9 L675.2 454.8 L676.4 454.7 L677.6 454.2 L678.8 454.1 L680.1 454.5 L681.3 455.1 L682.5 455.1 L683.7 454.7 L684.9 454.7 L686.2 454.7 L687.4 454.8 L688.6 454.8 L689.8 454.8 L691.0 455.1 L692.3 455.4 L693.5 455.6 L694.7 455.6 L695.9 454.7 L697.1 454.0 L698.4 454.4 L699.6 455.0 L700.8 455.2 L702.0 455.5 L703.2 455.5 L704.5 455.1 L705.7 454.6 L706.9 454.7 L708.1 455.2 L709.3 454.8 L710.6 454.0 L711.8 453.9 L713.0 454.8 L714.2 455.8 L715.4 455.2 L716.7 454.1 L717.9 454.3 L719.1 455.0 L720.3 455.2 L721.5 454.8 L722.8 454.4 L724.0 454.4 L724.8 454.3" stroke="#ffa347" stroke-width="2.85"/>
<path d="M481.2 458.0 L482.4 457.5 L483.6 457.7 L484.9 459.1 L486.1 459.8 L487.3 459.1 L488.5 460.0 L489.7 460.6 L491.0 459.3 L492.2 458.8 L493.4 459.8 L494.6 461.3 L495.8 461.8 L497.1 461.4 L498.3 460.6 L499.5 458.9 L500.7 457.4 L501.9 456.7 L503.2 457.1 L504.4 458.1 L505.6 458.2 L506.8 458.0 L508.0 458.7 L509.3 458.5 L510.5 457.6 L511.7 458.4 L512.9 459.8 L514.1 458.9 L515.4 457.2 L516.6 457.8 L517.8 459.0 L519.0 458.8 L520.2 459.3 L521.5 458.6 L522.7 457.1 L523.9 457.9 L525.1 457.7 L526.3 456.6 L527.6 457.1 L528.8 458.1 L530.0 458.4 L531.2 457.8 L532.4 457.7 L533.7 458.9 L534.9 460.0 L536.1 460.0 L537.3 459.7 L538.5 460.2 L539.8 460.1 L541.0 459.0 L542.2 458.4 L543.4 458.2 L544.6 458.1 L545.9 457.2 L547.1 455.7 L548.3 456.0 L549.5 456.1 L550.7 454.4 L552.0 455.1 L553.2 456.6 L554.4 455.8 L555.6 455.4 L556.8 455.8 L558.1 455.1 L559.3 454.4 L560.5 454.4 L561.7 454.4 L562.9 454.3 L564.2 455.3 L565.4 456.0 L566.6 455.8 L567.8 455.6 L569.0 455.0 L570.3 454.0 L571.5 452.6 L572.7 451.2 L573.9 450.5 L575.1 449.4 L576.4 448.3 L577.6 448.6 L578.8 448.6 L580.0 447.4 L581.2 445.3 L582.5 444.4 L583.7 446.0 L584.9 445.2 L586.1 443.6 L587.3 444.0 L588.6 444.0 L589.8 443.5 L591.0 443.0 L592.2 442.3 L593.4 440.7 L594.7 438.7 L595.9 437.2 L597.1 434.5 L598.3 431.2 L599.5 429.7 L600.8 427.8 L602.0 424.8 L603.2 422.3 L604.4 419.6 L605.6 416.5 L606.9 412.6 L608.1 407.9 L609.3 403.9 L610.5 399.9 L611.7 396.4 L613.0 393.1 L614.2 389.3 L615.4 386.8 L616.6 383.6 L617.8 377.5 L619.1 372.6 L620.3 371.5 L621.5 372.0 L622.7 372.4 L623.9 372.8 L625.2 373.9 L626.4 376.2 L627.6 379.0 L628.8 382.3 L630.0 387.0 L631.3 391.5 L632.5 394.1 L633.7 396.9 L634.9 401.1 L636.1 404.6 L637.4 408.0 L638.6 412.4 L639.8 416.4 L641.0 419.7 L642.2 422.8 L643.5 424.6 L644.7 425.2 L645.9 426.6 L647.1 429.2 L648.3 431.9 L649.6 433.1 L650.8 434.2 L652.0 437.2 L653.2 441.4 L654.4 445.7 L655.7 449.1 L656.9 450.3 L658.1 451.7 L659.3 453.3 L660.5 455.3 L661.8 456.9 L663.0 456.7 L664.2 457.5 L665.4 459.0 L666.6 458.1 L667.9 457.6 L669.1 457.5 L670.3 457.3 L671.5 458.6 L672.7 459.2 L674.0 458.4 L675.2 457.9 L676.4 457.2 L677.6 456.6 L678.8 457.0 L680.1 456.7 L681.3 456.9 L682.5 458.3 L683.7 458.6 L684.9 458.1 L686.2 459.3 L687.4 460.0 L688.6 458.8 L689.8 458.1 L691.0 458.0 L692.3 457.4 L693.5 457.4 L694.7 458.4 L695.9 458.6 L697.1 457.6 L698.4 457.1 L699.6 456.8 L700.8 456.5 L702.0 456.0 L703.2 456.4 L704.5 457.6 L705.7 457.6 L706.9 458.1 L708.1 458.7 L709.3 457.9 L710.6 456.9 L711.8 456.0 L713.0 456.2 L714.2 457.1 L715.4 456.3 L716.7 454.8 L717.9 454.9 L719.1 455.8 L720.3 456.0 L721.5 456.6 L722.8 456.5 L724.0 455.9 L724.8 455.8" stroke="#3f9c3c" stroke-width="2.85"/>
<path d="M481.2 454.2 L482.4 453.2 L483.6 451.8 L484.9 452.1 L486.1 452.6 L487.3 453.1 L488.5 453.2 L489.7 452.9 L491.0 453.3 L492.2 452.9 L493.4 453.4 L494.6 454.8 L495.8 454.6 L497.1 454.4 L498.3 455.5 L499.5 454.7 L500.7 453.3 L501.9 453.2 L503.2 453.5 L504.4 453.5 L505.6 453.3 L506.8 453.1 L508.0 453.3 L509.3 454.6 L510.5 455.7 L511.7 455.4 L512.9 453.3 L514.1 451.3 L515.4 451.9 L516.6 454.5 L517.8 456.5 L519.0 456.6 L520.2 455.6 L521.5 454.0 L522.7 453.4 L523.9 454.5 L525.1 455.2 L526.3 454.4 L527.6 454.8 L528.8 455.6 L530.0 454.5 L531.2 453.5 L532.4 453.2 L533.7 454.2 L534.9 456.0 L536.1 455.6 L537.3 452.7 L538.5 451.8 L539.8 454.8 L541.0 456.3 L542.2 455.0 L543.4 454.7 L544.6 453.9 L545.9 451.4 L547.1 451.1 L548.3 453.7 L549.5 454.6 L550.7 453.5 L552.0 453.4 L553.2 453.5 L554.4 453.0 L555.6 453.8 L556.8 455.5 L558.1 455.4 L559.3 454.5 L560.5 454.6 L561.7 454.9 L562.9 454.8 L564.2 454.6 L565.4 454.6 L566.6 454.9 L567.8 455.2 L569.0 454.7 L570.3 453.5 L571.5 453.0 L572.7 454.3 L573.9 455.8 L575.1 455.3 L576.4 454.0 L577.6 453.0 L578.8 452.6 L580.0 453.0 L581.2 453.8 L582.5 454.9 L583.7 455.8 L584.9 455.6 L586.1 455.7 L587.3 455.8 L588.6 455.2 L589.8 454.6 L591.0 454.7 L592.2 454.7 L593.4 454.7 L594.7 454.7 L595.9 454.0 L597.1 454.3 L598.3 455.0 L599.5 454.4 L600.8 453.5 L602.0 453.1 L603.2 451.8 L604.4 450.5 L605.6 450.2 L606.9 450.7 L608.1 452.7 L609.3 452.6 L610.5 449.9 L611.7 450.5 L613.0 452.3 L614.2 452.0 L615.4 451.0 L616.6 451.1 L617.8 451.5 L619.1 450.4 L620.3 449.6 L621.5 449.7 L622.7 450.7 L623.9 450.9 L625.2 450.0 L626.4 449.0 L627.6 447.9 L628.8 448.5 L630.0 449.8 L631.3 450.9 L632.5 451.5 L633.7 451.5 L634.9 451.6 L636.1 450.5 L637.4 449.6 L638.6 450.3 L639.8 451.2 L641.0 452.0 L642.2 452.0 L643.5 451.7 L644.7 451.9 L645.9 452.4 L647.1 453.0 L648.3 452.7 L649.6 452.5 L650.8 453.2 L652.0 452.5 L653.2 451.0 L654.4 450.5 L655.7 452.5 L656.9 454.8 L658.1 455.1 L659.3 454.6 L660.5 453.7 L661.8 452.7 L663.0 452.6 L664.2 453.1 L665.4 453.0 L666.6 452.4 L667.9 452.9 L669.1 454.0 L670.3 454.0 L671.5 453.2 L672.7 453.0 L674.0 453.7 L675.2 454.8 L676.4 455.4 L677.6 455.1 L678.8 454.2 L680.1 454.0 L681.3 454.4 L682.5 453.4 L683.7 453.0 L684.9 453.3 L686.2 453.1 L687.4 453.1 L688.6 453.4 L689.8 454.0 L691.0 454.9 L692.3 455.9 L693.5 456.7 L694.7 456.7 L695.9 455.1 L697.1 454.7 L698.4 456.3 L699.6 454.6 L700.8 452.4 L702.0 453.7 L703.2 454.2 L704.5 453.2 L705.7 453.4 L706.9 453.7 L708.1 453.7 L709.3 454.1 L710.6 454.2 L711.8 454.4 L713.0 454.9 L714.2 455.8 L715.4 456.4 L716.7 455.3 L717.9 453.8 L719.1 454.9 L720.3 457.0 L721.5 456.7 L722.8 454.9 L724.0 454.6 L724.8 454.5" stroke="#ff45a5" stroke-width="2.85"/>
<path d="M481.2 456.7 L482.4 456.3 L483.6 455.1 L484.9 454.5 L486.1 455.9 L487.3 457.4 L488.5 457.3 L489.7 457.1 L491.0 458.5 L492.2 458.5 L493.4 456.8 L494.6 456.4 L495.8 456.8 L497.1 456.5 L498.3 456.8 L499.5 457.7 L500.7 457.4 L501.9 456.1 L503.2 455.4 L504.4 455.6 L505.6 456.0 L506.8 456.0 L508.0 456.2 L509.3 456.6 L510.5 456.4 L511.7 455.4 L512.9 454.1 L514.1 454.0 L515.4 455.1 L516.6 455.7 L517.8 456.1 L519.0 456.9 L520.2 456.8 L521.5 456.3 L522.7 456.3 L523.9 456.7 L525.1 456.6 L526.3 456.4 L527.6 456.6 L528.8 456.1 L530.0 455.9 L531.2 455.8 L532.4 455.9 L533.7 456.4 L534.9 456.8 L536.1 456.9 L537.3 456.2 L538.5 456.2 L539.8 457.2 L541.0 458.2 L542.2 458.0 L543.4 457.5 L544.6 457.5 L545.9 456.7 L547.1 455.5 L548.3 456.1 L549.5 456.5 L550.7 456.3 L552.0 456.7 L553.2 456.2 L554.4 455.4 L555.6 455.1 L556.8 454.3 L558.1 454.0 L559.3 454.7 L560.5 455.1 L561.7 454.3 L562.9 454.0 L564.2 454.9 L565.4 454.9 L566.6 454.5 L567.8 455.1 L569.0 456.0 L570.3 455.6 L571.5 455.9 L572.7 457.4 L573.9 457.5 L575.1 457.3 L576.4 457.3 L577.6 456.4 L578.8 454.9 L580.0 454.7 L581.2 455.5 L582.5 455.4 L583.7 455.6 L584.9 455.1 L586.1 453.7 L587.3 454.6 L588.6 455.9 L589.8 455.2 L591.0 454.9 L592.2 455.2 L593.4 455.1 L594.7 454.3 L595.9 453.6 L597.1 453.4 L598.3 453.5 L599.5 453.3 L600.8 452.0 L602.0 450.9 L603.2 450.8 L604.4 450.7 L605.6 450.1 L606.9 449.3 L608.1 448.2 L609.3 447.2 L610.5 446.9 L611.7 447.0 L613.0 446.6 L614.2 445.6 L615.4 445.6 L616.6 446.3 L617.8 446.4 L619.1 445.8 L620.3 445.5 L621.5 445.9 L622.7 446.6 L623.9 446.6 L625.2 446.2 L626.4 446.1 L627.6 446.0 L628.8 446.2 L630.0 445.9 L631.3 445.8 L632.5 446.9 L633.7 448.1 L634.9 450.0 L636.1 451.4 L637.4 451.0 L638.6 451.2 L639.8 451.6 L641.0 452.4 L642.2 454.3 L643.5 454.7 L644.7 454.7 L645.9 454.9 L647.1 455.1 L648.3 454.9 L649.6 454.3 L650.8 454.1 L652.0 453.7 L653.2 454.2 L654.4 454.9 L655.7 453.9 L656.9 454.3 L658.1 455.8 L659.3 455.2 L660.5 455.2 L661.8 455.8 L663.0 454.7 L664.2 454.8 L665.4 456.0 L666.6 455.6 L667.9 455.0 L669.1 455.1 L670.3 454.8 L671.5 454.2 L672.7 455.1 L674.0 456.5 L675.2 456.2 L676.4 455.6 L677.6 456.6 L678.8 457.4 L680.1 456.7 L681.3 456.1 L682.5 455.0 L683.7 454.6 L684.9 455.4 L686.2 455.2 L687.4 455.0 L688.6 455.7 L689.8 456.0 L691.0 456.4 L692.3 456.9 L693.5 456.7 L694.7 455.8 L695.9 455.7 L697.1 456.0 L698.4 454.8 L699.6 453.8 L700.8 455.2 L702.0 456.7 L703.2 457.4 L704.5 457.7 L705.7 457.4 L706.9 457.0 L708.1 456.6 L709.3 456.0 L710.6 455.7 L711.8 456.0 L713.0 456.1 L714.2 455.7 L715.4 455.9 L716.7 456.4 L717.9 456.3 L719.1 456.0 L720.3 455.5 L721.5 454.7 L722.8 454.3 L724.0 455.3 L724.8 456.4" stroke="#dd66ff" stroke-width="2.85"/>
</g>
<g clip-path="url(#clipc)" fill="none" stroke-linejoin="round" stroke-linecap="round">
<path d="M855.5 436.3 L856.7 436.6 L857.9 436.3 L859.2 435.6 L860.4 436.1 L861.6 436.4 L862.8 436.3 L864.0 436.3 L865.3 435.7 L866.5 435.3 L867.7 436.4 L868.9 436.2 L870.1 434.8 L871.4 434.9 L872.6 434.2 L873.8 433.1 L875.0 433.6 L876.2 433.7 L877.5 433.2 L878.7 433.0 L879.9 433.1 L881.1 433.6 L882.3 433.0 L883.6 432.1 L884.8 431.9 L886.0 431.5 L887.2 431.4 L888.4 432.8 L889.7 434.1 L890.9 433.9 L892.1 432.6 L893.3 431.8 L894.5 432.1 L895.8 433.2 L897.0 433.9 L898.2 433.8 L899.4 433.8 L900.6 434.3 L901.9 433.6 L903.1 430.9 L904.3 430.2 L905.5 432.2 L906.7 433.4 L908.0 433.3 L909.2 432.9 L910.4 431.9 L911.6 431.4 L912.8 432.6 L914.1 434.3 L915.3 434.3 L916.5 433.5 L917.7 433.4 L918.9 433.4 L920.2 433.2 L921.4 433.1 L922.6 433.5 L923.8 433.9 L925.0 434.2 L926.3 434.1 L927.5 434.3 L928.7 435.1 L929.9 435.5 L931.1 435.6 L932.4 435.9 L933.6 436.0 L934.8 435.9 L936.0 436.9 L937.2 437.4 L938.5 437.0 L939.7 438.2 L940.9 438.6 L942.1 436.4 L943.3 433.8 L944.6 433.4 L945.8 435.3 L947.0 437.1 L948.2 436.8 L949.4 435.9 L950.7 434.7 L951.9 434.1 L953.1 433.9 L954.3 433.1 L955.5 433.2 L956.8 433.6 L958.0 433.3 L959.2 432.6 L960.4 431.9 L961.6 431.8 L962.9 430.6 L964.1 428.3 L965.3 427.4 L966.5 427.9 L967.7 428.3 L969.0 427.6 L970.2 426.5 L971.4 425.9 L972.6 425.8 L973.8 425.0 L975.1 423.0 L976.3 422.3 L977.5 423.5 L978.7 423.7 L979.9 423.4 L981.2 419.9 L982.4 413.2 L983.6 410.5 L984.8 410.9 L986.0 410.7 L987.3 408.5 L988.5 405.4 L989.7 402.0 L990.9 398.4 L992.1 394.9 L993.4 391.0 L994.6 387.4 L995.8 384.8 L997.0 380.6 L998.2 374.7 L999.5 370.3 L1000.7 365.2 L1001.9 358.2 L1003.1 352.0 L1004.3 344.9 L1005.6 336.3 L1006.8 326.3 L1008.0 316.2 L1009.2 307.4 L1010.4 297.0 L1011.7 282.0 L1012.9 266.4 L1014.1 255.1 L1015.3 247.8 L1016.5 237.9 L1017.8 224.6 L1019.0 211.4 L1020.2 198.6 L1021.4 186.2 L1022.6 176.4 L1023.9 168.1 L1025.1 158.6 L1026.3 150.0 L1027.5 143.2 L1028.7 136.9 L1030.0 130.8 L1031.2 127.7 L1032.4 125.7 L1033.6 124.4 L1034.8 125.4 L1036.1 125.7 L1037.3 126.3 L1038.5 130.6 L1039.7 137.1 L1040.9 146.6 L1042.2 159.5 L1043.4 172.8 L1044.6 183.0 L1045.8 192.5 L1047.0 202.5 L1048.3 213.1 L1049.5 224.6 L1050.7 236.4 L1051.9 248.8 L1053.1 260.7 L1054.4 271.7 L1055.6 282.3 L1056.8 292.4 L1058.0 301.0 L1059.2 309.8 L1060.5 318.7 L1061.7 326.5 L1062.9 335.3 L1064.1 344.4 L1065.3 353.1 L1066.6 362.3 L1067.8 368.8 L1069.0 374.1 L1070.2 380.1 L1071.4 385.8 L1072.7 391.1 L1073.9 396.1 L1075.1 400.4 L1076.3 403.4 L1077.5 405.6 L1078.8 408.1 L1080.0 410.6 L1081.2 411.6 L1082.4 412.8 L1083.6 415.2 L1084.9 416.0 L1086.1 416.8 L1087.3 419.1 L1088.5 420.6 L1089.7 420.7 L1091.0 421.9 L1092.2 424.5 L1093.4 425.7 L1094.6 425.2 L1095.8 424.9 L1097.1 426.4 L1098.3 428.5 L1099.2 428.8" stroke="#ffffff" stroke-opacity="0.75" stroke-width="4.65"/>
<path d="M855.5 434.4 L856.7 434.1 L857.9 433.3 L859.2 432.7 L860.4 430.7 L861.6 430.4 L862.8 432.8 L864.0 431.8 L865.3 428.7 L866.5 428.4 L867.7 429.9 L868.9 431.6 L870.1 432.5 L871.4 431.4 L872.6 430.3 L873.8 430.4 L875.0 430.3 L876.2 429.8 L877.5 428.7 L878.7 429.0 L879.9 430.6 L881.1 430.4 L882.3 429.6 L883.6 429.1 L884.8 428.9 L886.0 429.7 L887.2 431.3 L888.4 432.1 L889.7 431.1 L890.9 431.4 L892.1 433.4 L893.3 433.2 L894.5 431.4 L895.8 430.0 L897.0 430.0 L898.2 429.9 L899.4 428.3 L900.6 428.7 L901.9 431.8 L903.1 433.6 L904.3 431.7 L905.5 428.9 L906.7 429.2 L908.0 430.6 L909.2 430.1 L910.4 430.9 L911.6 432.8 L912.8 431.7 L914.1 430.0 L915.3 430.5 L916.5 432.7 L917.7 432.8 L918.9 430.2 L920.2 429.0 L921.4 430.9 L922.6 432.8 L923.8 431.7 L925.0 430.3 L926.3 431.4 L927.5 432.3 L928.7 431.8 L929.9 431.6 L931.1 431.3 L932.4 430.6 L933.6 429.8 L934.8 429.1 L936.0 428.6 L937.2 429.4 L938.5 431.6 L939.7 432.7 L940.9 432.5 L942.1 432.5 L943.3 431.9 L944.6 431.4 L945.8 431.7 L947.0 431.8 L948.2 430.6 L949.4 429.5 L950.7 430.7 L951.9 432.3 L953.1 431.7 L954.3 430.3 L955.5 429.7 L956.8 431.5 L958.0 433.3 L959.2 433.1 L960.4 433.0 L961.6 433.1 L962.9 433.0 L964.1 432.6 L965.3 432.9 L966.5 433.7 L967.7 432.9 L969.0 431.5 L970.2 431.0 L971.4 431.1 L972.6 431.6 L973.8 431.8 L975.1 432.2 L976.3 432.3 L977.5 431.1 L978.7 430.5 L979.9 431.1 L981.2 431.2 L982.4 431.5 L983.6 431.8 L984.8 432.3 L986.0 433.6 L987.3 433.9 L988.5 432.9 L989.7 431.4 L990.9 431.3 L992.1 433.1 L993.4 434.3 L994.6 434.1 L995.8 433.5 L997.0 433.0 L998.2 433.0 L999.5 431.2 L1000.7 428.6 L1001.9 428.9 L1003.1 431.0 L1004.3 432.0 L1005.6 432.1 L1006.8 432.3 L1008.0 433.3 L1009.2 433.9 L1010.4 432.7 L1011.7 431.8 L1012.9 430.6 L1014.1 429.5 L1015.3 431.3 L1016.5 432.8 L1017.8 433.0 L1019.0 434.2 L1020.2 433.9 L1021.4 433.0 L1022.6 433.0 L1023.9 432.2 L1025.1 432.4 L1026.3 432.7 L1027.5 431.4 L1028.7 430.3 L1030.0 430.1 L1031.2 432.6 L1032.4 435.6 L1033.6 433.9 L1034.8 430.0 L1036.1 429.1 L1037.3 431.3 L1038.5 432.0 L1039.7 431.6 L1040.9 432.5 L1042.2 432.7 L1043.4 432.5 L1044.6 432.9 L1045.8 432.3 L1047.0 430.6 L1048.3 430.5 L1049.5 431.8 L1050.7 430.5 L1051.9 429.3 L1053.1 429.9 L1054.4 430.2 L1055.6 432.2 L1056.8 435.0 L1058.0 433.7 L1059.2 429.9 L1060.5 428.4 L1061.7 428.7 L1062.9 429.0 L1064.1 429.8 L1065.3 430.7 L1066.6 430.7 L1067.8 429.4 L1069.0 428.1 L1070.2 428.9 L1071.4 429.9 L1072.7 430.7 L1073.9 430.7 L1075.1 429.2 L1076.3 428.7 L1077.5 428.6 L1078.8 428.9 L1080.0 429.8 L1081.2 430.7 L1082.4 430.4 L1083.6 429.1 L1084.9 430.2 L1086.1 430.0 L1087.3 428.8 L1088.5 429.8 L1089.7 431.1 L1091.0 432.3 L1092.2 432.1 L1093.4 430.5 L1094.6 430.5 L1095.8 431.3 L1097.1 431.2 L1098.3 431.5 L1099.2 432.4" stroke="#ffffff" stroke-opacity="0.75" stroke-width="4.65"/>
<path d="M855.5 430.1 L856.7 430.0 L857.9 430.5 L859.2 429.7 L860.4 429.1 L861.6 430.6 L862.8 431.3 L864.0 432.2 L865.3 433.2 L866.5 431.4 L867.7 429.3 L868.9 430.1 L870.1 430.9 L871.4 430.1 L872.6 430.8 L873.8 431.1 L875.0 430.2 L876.2 431.1 L877.5 431.6 L878.7 430.6 L879.9 430.8 L881.1 431.1 L882.3 429.9 L883.6 430.4 L884.8 432.3 L886.0 431.6 L887.2 430.2 L888.4 432.1 L889.7 433.2 L890.9 431.7 L892.1 432.4 L893.3 433.1 L894.5 432.5 L895.8 432.2 L897.0 432.4 L898.2 434.3 L899.4 434.3 L900.6 431.9 L901.9 431.3 L903.1 431.7 L904.3 431.6 L905.5 431.5 L906.7 431.4 L908.0 431.9 L909.2 432.0 L910.4 432.0 L911.6 433.0 L912.8 432.8 L914.1 431.9 L915.3 432.8 L916.5 433.4 L917.7 433.2 L918.9 433.2 L920.2 431.7 L921.4 431.2 L922.6 431.7 L923.8 432.2 L925.0 433.3 L926.3 434.0 L927.5 433.5 L928.7 431.2 L929.9 431.1 L931.1 432.4 L932.4 432.2 L933.6 432.2 L934.8 431.8 L936.0 432.5 L937.2 433.4 L938.5 431.9 L939.7 430.4 L940.9 431.4 L942.1 433.1 L943.3 433.3 L944.6 433.0 L945.8 432.7 L947.0 432.3 L948.2 431.4 L949.4 431.1 L950.7 432.2 L951.9 431.4 L953.1 429.9 L954.3 431.4 L955.5 434.2 L956.8 434.0 L958.0 431.6 L959.2 431.7 L960.4 433.1 L961.6 432.8 L962.9 431.9 L964.1 431.9 L965.3 431.8 L966.5 431.4 L967.7 431.5 L969.0 431.7 L970.2 431.8 L971.4 431.9 L972.6 432.4 L973.8 433.7 L975.1 434.1 L976.3 432.2 L977.5 430.7 L978.7 430.7 L979.9 430.0 L981.2 429.4 L982.4 430.4 L983.6 431.5 L984.8 432.1 L986.0 432.3 L987.3 432.8 L988.5 432.5 L989.7 431.0 L990.9 430.3 L992.1 430.2 L993.4 430.8 L994.6 431.5 L995.8 430.8 L997.0 429.9 L998.2 430.7 L999.5 431.9 L1000.7 431.3 L1001.9 430.1 L1003.1 430.0 L1004.3 430.2 L1005.6 429.7 L1006.8 428.4 L1008.0 427.1 L1009.2 427.8 L1010.4 430.4 L1011.7 430.6 L1012.9 429.2 L1014.1 429.9 L1015.3 432.5 L1016.5 433.4 L1017.8 430.6 L1019.0 428.5 L1020.2 429.2 L1021.4 431.2 L1022.6 431.7 L1023.9 431.3 L1025.1 432.9 L1026.3 433.1 L1027.5 431.1 L1028.7 430.3 L1030.0 429.8 L1031.2 429.0 L1032.4 429.0 L1033.6 428.8 L1034.8 428.4 L1036.1 429.6 L1037.3 430.3 L1038.5 429.1 L1039.7 428.3 L1040.9 428.9 L1042.2 429.8 L1043.4 430.6 L1044.6 430.8 L1045.8 429.4 L1047.0 428.5 L1048.3 429.7 L1049.5 430.7 L1050.7 431.7 L1051.9 430.1 L1053.1 426.5 L1054.4 426.6 L1055.6 428.8 L1056.8 428.3 L1058.0 427.2 L1059.2 429.3 L1060.5 432.0 L1061.7 431.5 L1062.9 430.2 L1064.1 431.1 L1065.3 432.0 L1066.6 432.2 L1067.8 432.4 L1069.0 432.4 L1070.2 433.9 L1071.4 434.4 L1072.7 432.9 L1073.9 432.0 L1075.1 431.1 L1076.3 431.1 L1077.5 433.0 L1078.8 434.2 L1080.0 433.7 L1081.2 432.8 L1082.4 431.9 L1083.6 430.9 L1084.9 430.3 L1086.1 430.8 L1087.3 431.9 L1088.5 432.5 L1089.7 433.0 L1091.0 433.6 L1092.2 435.3 L1093.4 436.7 L1094.6 436.7 L1095.8 435.6 L1097.1 433.9 L1098.3 432.9 L1099.2 433.0" stroke="#ffffff" stroke-opacity="0.75" stroke-width="4.65"/>
<path d="M855.5 427.2 L856.7 428.2 L857.9 431.0 L859.2 431.1 L860.4 429.7 L861.6 429.2 L862.8 429.3 L864.0 429.9 L865.3 429.6 L866.5 429.4 L867.7 430.5 L868.9 430.8 L870.1 429.7 L871.4 428.6 L872.6 428.1 L873.8 428.7 L875.0 429.9 L876.2 430.7 L877.5 430.8 L878.7 430.4 L879.9 431.0 L881.1 430.8 L882.3 430.7 L883.6 431.8 L884.8 432.1 L886.0 432.6 L887.2 433.0 L888.4 431.9 L889.7 430.8 L890.9 431.6 L892.1 432.1 L893.3 431.4 L894.5 431.4 L895.8 431.1 L897.0 430.3 L898.2 429.8 L899.4 429.7 L900.6 430.8 L901.9 430.7 L903.1 429.3 L904.3 430.3 L905.5 431.7 L906.7 432.1 L908.0 432.3 L909.2 432.1 L910.4 433.1 L911.6 434.0 L912.8 433.0 L914.1 433.0 L915.3 434.2 L916.5 433.9 L917.7 432.8 L918.9 431.7 L920.2 431.9 L921.4 432.4 L922.6 432.1 L923.8 434.0 L925.0 434.8 L926.3 432.6 L927.5 432.7 L928.7 434.1 L929.9 434.0 L931.1 434.3 L932.4 433.1 L933.6 430.0 L934.8 429.2 L936.0 432.1 L937.2 433.8 L938.5 433.6 L939.7 433.3 L940.9 432.5 L942.1 433.0 L943.3 433.3 L944.6 432.8 L945.8 432.3 L947.0 432.1 L948.2 432.0 L949.4 432.3 L950.7 432.8 L951.9 432.6 L953.1 432.4 L954.3 431.3 L955.5 431.2 L956.8 433.2 L958.0 433.8 L959.2 434.3 L960.4 434.6 L961.6 433.6 L962.9 433.7 L964.1 434.8 L965.3 434.4 L966.5 432.3 L967.7 431.4 L969.0 431.3 L970.2 430.4 L971.4 430.1 L972.6 431.2 L973.8 431.5 L975.1 431.1 L976.3 430.6 L977.5 431.0 L978.7 433.3 L979.9 433.8 L981.2 433.2 L982.4 433.0 L983.6 431.8 L984.8 430.8 L986.0 430.6 L987.3 430.5 L988.5 431.6 L989.7 432.7 L990.9 432.8 L992.1 433.5 L993.4 434.3 L994.6 434.0 L995.8 431.9 L997.0 430.2 L998.2 429.3 L999.5 429.2 L1000.7 431.6 L1001.9 432.7 L1003.1 432.1 L1004.3 432.4 L1005.6 432.2 L1006.8 431.3 L1008.0 431.6 L1009.2 432.6 L1010.4 433.5 L1011.7 433.9 L1012.9 432.4 L1014.1 431.0 L1015.3 431.3 L1016.5 431.2 L1017.8 430.4 L1019.0 429.7 L1020.2 430.0 L1021.4 430.5 L1022.6 430.7 L1023.9 432.2 L1025.1 433.1 L1026.3 431.1 L1027.5 429.2 L1028.7 430.2 L1030.0 431.6 L1031.2 431.7 L1032.4 431.6 L1033.6 431.6 L1034.8 431.2 L1036.1 431.0 L1037.3 431.5 L1038.5 431.5 L1039.7 431.8 L1040.9 430.8 L1042.2 429.1 L1043.4 431.9 L1044.6 433.7 L1045.8 431.0 L1047.0 429.2 L1048.3 430.0 L1049.5 430.8 L1050.7 429.7 L1051.9 428.0 L1053.1 427.2 L1054.4 427.1 L1055.6 427.7 L1056.8 427.6 L1058.0 427.8 L1059.2 429.5 L1060.5 430.5 L1061.7 429.5 L1062.9 428.5 L1064.1 430.9 L1065.3 432.3 L1066.6 429.7 L1067.8 427.0 L1069.0 427.5 L1070.2 430.1 L1071.4 430.9 L1072.7 430.6 L1073.9 429.3 L1075.1 427.9 L1076.3 428.7 L1077.5 429.5 L1078.8 429.5 L1080.0 429.9 L1081.2 430.4 L1082.4 430.1 L1083.6 429.1 L1084.9 430.1 L1086.1 431.6 L1087.3 432.8 L1088.5 433.5 L1089.7 432.8 L1091.0 431.5 L1092.2 431.4 L1093.4 432.4 L1094.6 432.5 L1095.8 432.1 L1097.1 431.9 L1098.3 431.6 L1099.2 431.2" stroke="#ffffff" stroke-opacity="0.75" stroke-width="4.65"/>
<path d="M855.5 436.3 L856.7 436.6 L857.9 436.3 L859.2 435.6 L860.4 436.1 L861.6 436.4 L862.8 436.3 L864.0 436.3 L865.3 435.7 L866.5 435.3 L867.7 436.4 L868.9 436.2 L870.1 434.8 L871.4 434.9 L872.6 434.2 L873.8 433.1 L875.0 433.6 L876.2 433.7 L877.5 433.2 L878.7 433.0 L879.9 433.1 L881.1 433.6 L882.3 433.0 L883.6 432.1 L884.8 431.9 L886.0 431.5 L887.2 431.4 L888.4 432.8 L889.7 434.1 L890.9 433.9 L892.1 432.6 L893.3 431.8 L894.5 432.1 L895.8 433.2 L897.0 433.9 L898.2 433.8 L899.4 433.8 L900.6 434.3 L901.9 433.6 L903.1 430.9 L904.3 430.2 L905.5 432.2 L906.7 433.4 L908.0 433.3 L909.2 432.9 L910.4 431.9 L911.6 431.4 L912.8 432.6 L914.1 434.3 L915.3 434.3 L916.5 433.5 L917.7 433.4 L918.9 433.4 L920.2 433.2 L921.4 433.1 L922.6 433.5 L923.8 433.9 L925.0 434.2 L926.3 434.1 L927.5 434.3 L928.7 435.1 L929.9 435.5 L931.1 435.6 L932.4 435.9 L933.6 436.0 L934.8 435.9 L936.0 436.9 L937.2 437.4 L938.5 437.0 L939.7 438.2 L940.9 438.6 L942.1 436.4 L943.3 433.8 L944.6 433.4 L945.8 435.3 L947.0 437.1 L948.2 436.8 L949.4 435.9 L950.7 434.7 L951.9 434.1 L953.1 433.9 L954.3 433.1 L955.5 433.2 L956.8 433.6 L958.0 433.3 L959.2 432.6 L960.4 431.9 L961.6 431.8 L962.9 430.6 L964.1 428.3 L965.3 427.4 L966.5 427.9 L967.7 428.3 L969.0 427.6 L970.2 426.5 L971.4 425.9 L972.6 425.8 L973.8 425.0 L975.1 423.0 L976.3 422.3 L977.5 423.5 L978.7 423.7 L979.9 423.4 L981.2 419.9 L982.4 413.2 L983.6 410.5 L984.8 410.9 L986.0 410.7 L987.3 408.5 L988.5 405.4 L989.7 402.0 L990.9 398.4 L992.1 394.9 L993.4 391.0 L994.6 387.4 L995.8 384.8 L997.0 380.6 L998.2 374.7 L999.5 370.3 L1000.7 365.2 L1001.9 358.2 L1003.1 352.0 L1004.3 344.9 L1005.6 336.3 L1006.8 326.3 L1008.0 316.2 L1009.2 307.4 L1010.4 297.0 L1011.7 282.0 L1012.9 266.4 L1014.1 255.1 L1015.3 247.8 L1016.5 237.9 L1017.8 224.6 L1019.0 211.4 L1020.2 198.6 L1021.4 186.2 L1022.6 176.4 L1023.9 168.1 L1025.1 158.6 L1026.3 150.0 L1027.5 143.2 L1028.7 136.9 L1030.0 130.8 L1031.2 127.7 L1032.4 125.7 L1033.6 124.4 L1034.8 125.4 L1036.1 125.7 L1037.3 126.3 L1038.5 130.6 L1039.7 137.1 L1040.9 146.6 L1042.2 159.5 L1043.4 172.8 L1044.6 183.0 L1045.8 192.5 L1047.0 202.5 L1048.3 213.1 L1049.5 224.6 L1050.7 236.4 L1051.9 248.8 L1053.1 260.7 L1054.4 271.7 L1055.6 282.3 L1056.8 292.4 L1058.0 301.0 L1059.2 309.8 L1060.5 318.7 L1061.7 326.5 L1062.9 335.3 L1064.1 344.4 L1065.3 353.1 L1066.6 362.3 L1067.8 368.8 L1069.0 374.1 L1070.2 380.1 L1071.4 385.8 L1072.7 391.1 L1073.9 396.1 L1075.1 400.4 L1076.3 403.4 L1077.5 405.6 L1078.8 408.1 L1080.0 410.6 L1081.2 411.6 L1082.4 412.8 L1083.6 415.2 L1084.9 416.0 L1086.1 416.8 L1087.3 419.1 L1088.5 420.6 L1089.7 420.7 L1091.0 421.9 L1092.2 424.5 L1093.4 425.7 L1094.6 425.2 L1095.8 424.9 L1097.1 426.4 L1098.3 428.5 L1099.2 428.8" stroke="#ffa347" stroke-width="2.85"/>
<path d="M855.5 434.4 L856.7 434.1 L857.9 433.3 L859.2 432.7 L860.4 430.7 L861.6 430.4 L862.8 432.8 L864.0 431.8 L865.3 428.7 L866.5 428.4 L867.7 429.9 L868.9 431.6 L870.1 432.5 L871.4 431.4 L872.6 430.3 L873.8 430.4 L875.0 430.3 L876.2 429.8 L877.5 428.7 L878.7 429.0 L879.9 430.6 L881.1 430.4 L882.3 429.6 L883.6 429.1 L884.8 428.9 L886.0 429.7 L887.2 431.3 L888.4 432.1 L889.7 431.1 L890.9 431.4 L892.1 433.4 L893.3 433.2 L894.5 431.4 L895.8 430.0 L897.0 430.0 L898.2 429.9 L899.4 428.3 L900.6 428.7 L901.9 431.8 L903.1 433.6 L904.3 431.7 L905.5 428.9 L906.7 429.2 L908.0 430.6 L909.2 430.1 L910.4 430.9 L911.6 432.8 L912.8 431.7 L914.1 430.0 L915.3 430.5 L916.5 432.7 L917.7 432.8 L918.9 430.2 L920.2 429.0 L921.4 430.9 L922.6 432.8 L923.8 431.7 L925.0 430.3 L926.3 431.4 L927.5 432.3 L928.7 431.8 L929.9 431.6 L931.1 431.3 L932.4 430.6 L933.6 429.8 L934.8 429.1 L936.0 428.6 L937.2 429.4 L938.5 431.6 L939.7 432.7 L940.9 432.5 L942.1 432.5 L943.3 431.9 L944.6 431.4 L945.8 431.7 L947.0 431.8 L948.2 430.6 L949.4 429.5 L950.7 430.7 L951.9 432.3 L953.1 431.7 L954.3 430.3 L955.5 429.7 L956.8 431.5 L958.0 433.3 L959.2 433.1 L960.4 433.0 L961.6 433.1 L962.9 433.0 L964.1 432.6 L965.3 432.9 L966.5 433.7 L967.7 432.9 L969.0 431.5 L970.2 431.0 L971.4 431.1 L972.6 431.6 L973.8 431.8 L975.1 432.2 L976.3 432.3 L977.5 431.1 L978.7 430.5 L979.9 431.1 L981.2 431.2 L982.4 431.5 L983.6 431.8 L984.8 432.3 L986.0 433.6 L987.3 433.9 L988.5 432.9 L989.7 431.4 L990.9 431.3 L992.1 433.1 L993.4 434.3 L994.6 434.1 L995.8 433.5 L997.0 433.0 L998.2 433.0 L999.5 431.2 L1000.7 428.6 L1001.9 428.9 L1003.1 431.0 L1004.3 432.0 L1005.6 432.1 L1006.8 432.3 L1008.0 433.3 L1009.2 433.9 L1010.4 432.7 L1011.7 431.8 L1012.9 430.6 L1014.1 429.5 L1015.3 431.3 L1016.5 432.8 L1017.8 433.0 L1019.0 434.2 L1020.2 433.9 L1021.4 433.0 L1022.6 433.0 L1023.9 432.2 L1025.1 432.4 L1026.3 432.7 L1027.5 431.4 L1028.7 430.3 L1030.0 430.1 L1031.2 432.6 L1032.4 435.6 L1033.6 433.9 L1034.8 430.0 L1036.1 429.1 L1037.3 431.3 L1038.5 432.0 L1039.7 431.6 L1040.9 432.5 L1042.2 432.7 L1043.4 432.5 L1044.6 432.9 L1045.8 432.3 L1047.0 430.6 L1048.3 430.5 L1049.5 431.8 L1050.7 430.5 L1051.9 429.3 L1053.1 429.9 L1054.4 430.2 L1055.6 432.2 L1056.8 435.0 L1058.0 433.7 L1059.2 429.9 L1060.5 428.4 L1061.7 428.7 L1062.9 429.0 L1064.1 429.8 L1065.3 430.7 L1066.6 430.7 L1067.8 429.4 L1069.0 428.1 L1070.2 428.9 L1071.4 429.9 L1072.7 430.7 L1073.9 430.7 L1075.1 429.2 L1076.3 428.7 L1077.5 428.6 L1078.8 428.9 L1080.0 429.8 L1081.2 430.7 L1082.4 430.4 L1083.6 429.1 L1084.9 430.2 L1086.1 430.0 L1087.3 428.8 L1088.5 429.8 L1089.7 431.1 L1091.0 432.3 L1092.2 432.1 L1093.4 430.5 L1094.6 430.5 L1095.8 431.3 L1097.1 431.2 L1098.3 431.5 L1099.2 432.4" stroke="#3f9c3c" stroke-width="2.85"/>
<path d="M855.5 430.1 L856.7 430.0 L857.9 430.5 L859.2 429.7 L860.4 429.1 L861.6 430.6 L862.8 431.3 L864.0 432.2 L865.3 433.2 L866.5 431.4 L867.7 429.3 L868.9 430.1 L870.1 430.9 L871.4 430.1 L872.6 430.8 L873.8 431.1 L875.0 430.2 L876.2 431.1 L877.5 431.6 L878.7 430.6 L879.9 430.8 L881.1 431.1 L882.3 429.9 L883.6 430.4 L884.8 432.3 L886.0 431.6 L887.2 430.2 L888.4 432.1 L889.7 433.2 L890.9 431.7 L892.1 432.4 L893.3 433.1 L894.5 432.5 L895.8 432.2 L897.0 432.4 L898.2 434.3 L899.4 434.3 L900.6 431.9 L901.9 431.3 L903.1 431.7 L904.3 431.6 L905.5 431.5 L906.7 431.4 L908.0 431.9 L909.2 432.0 L910.4 432.0 L911.6 433.0 L912.8 432.8 L914.1 431.9 L915.3 432.8 L916.5 433.4 L917.7 433.2 L918.9 433.2 L920.2 431.7 L921.4 431.2 L922.6 431.7 L923.8 432.2 L925.0 433.3 L926.3 434.0 L927.5 433.5 L928.7 431.2 L929.9 431.1 L931.1 432.4 L932.4 432.2 L933.6 432.2 L934.8 431.8 L936.0 432.5 L937.2 433.4 L938.5 431.9 L939.7 430.4 L940.9 431.4 L942.1 433.1 L943.3 433.3 L944.6 433.0 L945.8 432.7 L947.0 432.3 L948.2 431.4 L949.4 431.1 L950.7 432.2 L951.9 431.4 L953.1 429.9 L954.3 431.4 L955.5 434.2 L956.8 434.0 L958.0 431.6 L959.2 431.7 L960.4 433.1 L961.6 432.8 L962.9 431.9 L964.1 431.9 L965.3 431.8 L966.5 431.4 L967.7 431.5 L969.0 431.7 L970.2 431.8 L971.4 431.9 L972.6 432.4 L973.8 433.7 L975.1 434.1 L976.3 432.2 L977.5 430.7 L978.7 430.7 L979.9 430.0 L981.2 429.4 L982.4 430.4 L983.6 431.5 L984.8 432.1 L986.0 432.3 L987.3 432.8 L988.5 432.5 L989.7 431.0 L990.9 430.3 L992.1 430.2 L993.4 430.8 L994.6 431.5 L995.8 430.8 L997.0 429.9 L998.2 430.7 L999.5 431.9 L1000.7 431.3 L1001.9 430.1 L1003.1 430.0 L1004.3 430.2 L1005.6 429.7 L1006.8 428.4 L1008.0 427.1 L1009.2 427.8 L1010.4 430.4 L1011.7 430.6 L1012.9 429.2 L1014.1 429.9 L1015.3 432.5 L1016.5 433.4 L1017.8 430.6 L1019.0 428.5 L1020.2 429.2 L1021.4 431.2 L1022.6 431.7 L1023.9 431.3 L1025.1 432.9 L1026.3 433.1 L1027.5 431.1 L1028.7 430.3 L1030.0 429.8 L1031.2 429.0 L1032.4 429.0 L1033.6 428.8 L1034.8 428.4 L1036.1 429.6 L1037.3 430.3 L1038.5 429.1 L1039.7 428.3 L1040.9 428.9 L1042.2 429.8 L1043.4 430.6 L1044.6 430.8 L1045.8 429.4 L1047.0 428.5 L1048.3 429.7 L1049.5 430.7 L1050.7 431.7 L1051.9 430.1 L1053.1 426.5 L1054.4 426.6 L1055.6 428.8 L1056.8 428.3 L1058.0 427.2 L1059.2 429.3 L1060.5 432.0 L1061.7 431.5 L1062.9 430.2 L1064.1 431.1 L1065.3 432.0 L1066.6 432.2 L1067.8 432.4 L1069.0 432.4 L1070.2 433.9 L1071.4 434.4 L1072.7 432.9 L1073.9 432.0 L1075.1 431.1 L1076.3 431.1 L1077.5 433.0 L1078.8 434.2 L1080.0 433.7 L1081.2 432.8 L1082.4 431.9 L1083.6 430.9 L1084.9 430.3 L1086.1 430.8 L1087.3 431.9 L1088.5 432.5 L1089.7 433.0 L1091.0 433.6 L1092.2 435.3 L1093.4 436.7 L1094.6 436.7 L1095.8 435.6 L1097.1 433.9 L1098.3 432.9 L1099.2 433.0" stroke="#dd66ff" stroke-width="2.85"/>
<path d="M855.5 427.2 L856.7 428.2 L857.9 431.0 L859.2 431.1 L860.4 429.7 L861.6 429.2 L862.8 429.3 L864.0 429.9 L865.3 429.6 L866.5 429.4 L867.7 430.5 L868.9 430.8 L870.1 429.7 L871.4 428.6 L872.6 428.1 L873.8 428.7 L875.0 429.9 L876.2 430.7 L877.5 430.8 L878.7 430.4 L879.9 431.0 L881.1 430.8 L882.3 430.7 L883.6 431.8 L884.8 432.1 L886.0 432.6 L887.2 433.0 L888.4 431.9 L889.7 430.8 L890.9 431.6 L892.1 432.1 L893.3 431.4 L894.5 431.4 L895.8 431.1 L897.0 430.3 L898.2 429.8 L899.4 429.7 L900.6 430.8 L901.9 430.7 L903.1 429.3 L904.3 430.3 L905.5 431.7 L906.7 432.1 L908.0 432.3 L909.2 432.1 L910.4 433.1 L911.6 434.0 L912.8 433.0 L914.1 433.0 L915.3 434.2 L916.5 433.9 L917.7 432.8 L918.9 431.7 L920.2 431.9 L921.4 432.4 L922.6 432.1 L923.8 434.0 L925.0 434.8 L926.3 432.6 L927.5 432.7 L928.7 434.1 L929.9 434.0 L931.1 434.3 L932.4 433.1 L933.6 430.0 L934.8 429.2 L936.0 432.1 L937.2 433.8 L938.5 433.6 L939.7 433.3 L940.9 432.5 L942.1 433.0 L943.3 433.3 L944.6 432.8 L945.8 432.3 L947.0 432.1 L948.2 432.0 L949.4 432.3 L950.7 432.8 L951.9 432.6 L953.1 432.4 L954.3 431.3 L955.5 431.2 L956.8 433.2 L958.0 433.8 L959.2 434.3 L960.4 434.6 L961.6 433.6 L962.9 433.7 L964.1 434.8 L965.3 434.4 L966.5 432.3 L967.7 431.4 L969.0 431.3 L970.2 430.4 L971.4 430.1 L972.6 431.2 L973.8 431.5 L975.1 431.1 L976.3 430.6 L977.5 431.0 L978.7 433.3 L979.9 433.8 L981.2 433.2 L982.4 433.0 L983.6 431.8 L984.8 430.8 L986.0 430.6 L987.3 430.5 L988.5 431.6 L989.7 432.7 L990.9 432.8 L992.1 433.5 L993.4 434.3 L994.6 434.0 L995.8 431.9 L997.0 430.2 L998.2 429.3 L999.5 429.2 L1000.7 431.6 L1001.9 432.7 L1003.1 432.1 L1004.3 432.4 L1005.6 432.2 L1006.8 431.3 L1008.0 431.6 L1009.2 432.6 L1010.4 433.5 L1011.7 433.9 L1012.9 432.4 L1014.1 431.0 L1015.3 431.3 L1016.5 431.2 L1017.8 430.4 L1019.0 429.7 L1020.2 430.0 L1021.4 430.5 L1022.6 430.7 L1023.9 432.2 L1025.1 433.1 L1026.3 431.1 L1027.5 429.2 L1028.7 430.2 L1030.0 431.6 L1031.2 431.7 L1032.4 431.6 L1033.6 431.6 L1034.8 431.2 L1036.1 431.0 L1037.3 431.5 L1038.5 431.5 L1039.7 431.8 L1040.9 430.8 L1042.2 429.1 L1043.4 431.9 L1044.6 433.7 L1045.8 431.0 L1047.0 429.2 L1048.3 430.0 L1049.5 430.8 L1050.7 429.7 L1051.9 428.0 L1053.1 427.2 L1054.4 427.1 L1055.6 427.7 L1056.8 427.6 L1058.0 427.8 L1059.2 429.5 L1060.5 430.5 L1061.7 429.5 L1062.9 428.5 L1064.1 430.9 L1065.3 432.3 L1066.6 429.7 L1067.8 427.0 L1069.0 427.5 L1070.2 430.1 L1071.4 430.9 L1072.7 430.6 L1073.9 429.3 L1075.1 427.9 L1076.3 428.7 L1077.5 429.5 L1078.8 429.5 L1080.0 429.9 L1081.2 430.4 L1082.4 430.1 L1083.6 429.1 L1084.9 430.1 L1086.1 431.6 L1087.3 432.8 L1088.5 433.5 L1089.7 432.8 L1091.0 431.5 L1092.2 431.4 L1093.4 432.4 L1094.6 432.5 L1095.8 432.1 L1097.1 431.9 L1098.3 431.6 L1099.2 431.2" stroke="#ff45a5" stroke-width="2.85"/>
</g>
<g clip-path="url(#clipd)" fill="none" stroke-linejoin="round" stroke-linecap="round">
<path d="M1198.9 448.0 L1200.4 448.3 L1202.0 448.6 L1203.5 448.3 L1205.0 448.1 L1206.5 448.5 L1208.1 448.2 L1209.6 447.3 L1211.1 446.9 L1212.7 447.0 L1214.2 447.7 L1215.7 448.6 L1217.3 448.6 L1218.8 447.8 L1220.3 448.1 L1221.8 448.9 L1223.4 448.7 L1224.9 447.8 L1226.4 447.7 L1228.0 447.8 L1229.5 448.2 L1231.0 448.4 L1232.6 448.2 L1234.1 448.2 L1235.6 448.5 L1237.1 448.3 L1238.7 447.8 L1240.2 448.2 L1241.7 448.8 L1243.3 448.4 L1244.8 448.1 L1246.3 448.0 L1247.9 447.7 L1249.4 448.0 L1250.9 448.9 L1252.4 448.6 L1254.0 447.6 L1255.5 447.3 L1257.0 446.8 L1258.6 446.7 L1260.1 447.6 L1261.6 448.2 L1263.2 448.1 L1264.7 447.7 L1266.2 446.9 L1267.7 445.7 L1269.3 444.6 L1270.8 443.8 L1272.3 443.1 L1273.9 441.9 L1275.4 440.2 L1276.9 438.8 L1278.5 438.2 L1280.0 438.3 L1281.5 438.3 L1283.0 437.6 L1284.6 434.8 L1286.1 431.8 L1287.6 430.4 L1289.2 429.4 L1290.7 429.1 L1292.2 428.1 L1293.8 424.3 L1295.3 418.0 L1296.8 414.5 L1298.3 411.3 L1299.9 407.9 L1301.4 403.5 L1302.9 398.3 L1304.5 392.7 L1306.0 386.9 L1307.5 380.6 L1309.1 373.2 L1310.6 364.6 L1312.1 355.4 L1313.6 345.2 L1315.2 334.1 L1316.7 322.3 L1318.2 309.9 L1319.8 297.4 L1321.3 284.7 L1322.8 271.4 L1324.4 258.2 L1325.9 246.0 L1327.4 234.4 L1328.9 222.9 L1330.5 211.9 L1332.0 200.3 L1333.5 187.1 L1335.1 174.7 L1336.6 165.3 L1338.1 158.0 L1339.7 152.6 L1341.2 147.7 L1342.7 142.9 L1344.2 138.8 L1345.8 135.2 L1347.3 131.9 L1348.8 131.3 L1350.4 132.4 L1351.9 134.2 L1353.4 135.7 L1355.0 134.9 L1356.5 133.5 L1358.0 135.7 L1359.5 149.2 L1361.1 162.6 L1362.6 167.7 L1364.1 176.2 L1365.7 191.9 L1367.2 209.4 L1368.7 227.8 L1370.3 247.6 L1371.8 270.1 L1373.3 287.3 L1374.8 296.9 L1376.4 308.6 L1377.9 333.0 L1379.4 348.8 L1381.0 360.1 L1382.5 367.3 L1384.0 371.2 L1385.6 376.1 L1387.1 383.3 L1388.6 390.1 L1390.1 395.5 L1391.7 400.5 L1393.2 407.3 L1394.7 412.4 L1396.3 414.7 L1397.8 418.4 L1399.3 425.4 L1400.9 427.9 L1402.4 429.0 L1403.9 430.4 L1405.4 432.3 L1407.0 434.6 L1408.5 436.7 L1410.0 437.9 L1411.6 438.7 L1413.1 439.6 L1414.6 440.2 L1416.2 440.9 L1417.7 442.8 L1419.2 444.2 L1420.7 445.2 L1422.3 446.8 L1423.8 447.3 L1425.3 447.2 L1426.9 448.2 L1428.4 449.4 L1429.9 449.5 L1431.5 449.4 L1433.0 449.8 L1434.5 449.8 L1436.0 449.5 L1437.6 449.9 L1439.1 450.8 L1440.6 450.7 L1442.2 449.9 L1443.7 450.0 L1445.2 450.9 L1446.8 450.9 L1448.3 450.4 L1449.8 450.3 L1451.3 450.6 L1452.9 450.4 L1454.4 449.8 L1455.9 450.1 L1457.5 450.0 L1459.0 449.6 L1460.5 449.7 L1462.1 449.6 L1463.6 449.8 L1465.1 450.2 L1466.6 450.5 L1468.2 450.5 L1469.7 450.2 L1471.2 450.2 L1472.8 450.2 L1474.3 450.2 L1475.8 450.6 L1477.4 450.6 L1478.9 450.2 L1480.4 450.6 L1481.9 451.5 L1483.5 451.4 L1485.0 450.8 L1486.5 451.0 L1488.1 451.3 L1489.6 451.3 L1491.1 451.4 L1492.7 450.7 L1494.2 449.9 L1495.7 451.1 L1497.2 452.2 L1498.8 451.1 L1500.3 450.3 L1501.8 450.3 L1502.6 450.2" stroke="#ffffff" stroke-opacity="0.75" stroke-width="4.65"/>
<path d="M1198.9 450.4 L1200.4 450.3 L1202.0 450.8 L1203.5 450.6 L1205.0 449.7 L1206.5 449.7 L1208.1 450.2 L1209.6 450.4 L1211.1 450.3 L1212.7 450.3 L1214.2 450.8 L1215.7 451.0 L1217.3 450.9 L1218.8 451.0 L1220.3 450.7 L1221.8 450.3 L1223.4 450.3 L1224.9 450.4 L1226.4 450.6 L1228.0 450.6 L1229.5 450.3 L1231.0 450.4 L1232.6 450.8 L1234.1 450.6 L1235.6 450.2 L1237.1 450.4 L1238.7 450.7 L1240.2 450.8 L1241.7 450.8 L1243.3 451.1 L1244.8 451.3 L1246.3 450.6 L1247.9 450.0 L1249.4 450.1 L1250.9 450.6 L1252.4 450.7 L1254.0 450.2 L1255.5 449.6 L1257.0 449.7 L1258.6 450.2 L1260.1 450.3 L1261.6 450.0 L1263.2 449.5 L1264.7 449.5 L1266.2 449.5 L1267.7 449.5 L1269.3 449.3 L1270.8 449.0 L1272.3 448.6 L1273.9 448.1 L1275.4 447.7 L1276.9 447.0 L1278.5 445.9 L1280.0 445.3 L1281.5 444.7 L1283.0 443.8 L1284.6 443.3 L1286.1 442.6 L1287.6 441.3 L1289.2 439.9 L1290.7 438.2 L1292.2 436.9 L1293.8 435.9 L1295.3 434.6 L1296.8 433.0 L1298.3 430.9 L1299.9 428.4 L1301.4 426.1 L1302.9 424.0 L1304.5 420.9 L1306.0 417.3 L1307.5 413.8 L1309.1 410.4 L1310.6 406.7 L1312.1 402.4 L1313.6 397.4 L1315.2 391.3 L1316.7 384.4 L1318.2 377.1 L1319.8 369.7 L1321.3 362.7 L1322.8 355.7 L1324.4 348.8 L1325.9 341.9 L1327.4 334.6 L1328.9 327.2 L1330.5 319.9 L1332.0 314.0 L1333.5 310.2 L1335.1 307.1 L1336.6 304.3 L1338.1 301.4 L1339.7 298.2 L1341.2 293.9 L1342.7 288.1 L1344.2 284.1 L1345.8 284.0 L1347.3 285.8 L1348.8 287.4 L1350.4 287.4 L1351.9 287.6 L1353.4 288.0 L1355.0 288.4 L1356.5 289.6 L1358.0 291.0 L1359.5 292.5 L1361.1 294.3 L1362.6 296.0 L1364.1 297.6 L1365.7 299.2 L1367.2 302.4 L1368.7 306.9 L1370.3 313.8 L1371.8 323.8 L1373.3 332.2 L1374.8 340.1 L1376.4 348.7 L1377.9 358.3 L1379.4 369.3 L1381.0 381.9 L1382.5 385.6 L1384.0 388.7 L1385.6 394.0 L1387.1 402.3 L1388.6 408.2 L1390.1 412.8 L1391.7 417.3 L1393.2 422.1 L1394.7 427.0 L1396.3 430.6 L1397.8 433.0 L1399.3 435.2 L1400.9 437.3 L1402.4 438.6 L1403.9 439.2 L1405.4 440.5 L1407.0 442.1 L1408.5 443.7 L1410.0 445.2 L1411.6 446.1 L1413.1 445.8 L1414.6 445.2 L1416.2 445.5 L1417.7 446.5 L1419.2 447.2 L1420.7 447.6 L1422.3 448.1 L1423.8 448.9 L1425.3 449.5 L1426.9 449.4 L1428.4 449.1 L1429.9 448.6 L1431.5 448.5 L1433.0 449.0 L1434.5 449.7 L1436.0 450.2 L1437.6 450.2 L1439.1 450.0 L1440.6 449.5 L1442.2 449.0 L1443.7 449.0 L1445.2 449.7 L1446.8 450.3 L1448.3 450.1 L1449.8 449.8 L1451.3 449.9 L1452.9 450.1 L1454.4 450.2 L1455.9 449.9 L1457.5 449.8 L1459.0 449.8 L1460.5 450.0 L1462.1 449.7 L1463.6 449.3 L1465.1 449.4 L1466.6 450.2 L1468.2 450.8 L1469.7 450.5 L1471.2 450.2 L1472.8 450.5 L1474.3 450.8 L1475.8 450.5 L1477.4 450.4 L1478.9 450.7 L1480.4 451.0 L1481.9 451.0 L1483.5 450.5 L1485.0 449.7 L1486.5 449.9 L1488.1 451.1 L1489.6 451.3 L1491.1 450.6 L1492.7 450.5 L1494.2 450.7 L1495.7 450.1 L1497.2 450.0 L1498.8 450.5 L1500.3 450.5 L1501.8 450.4 L1502.6 450.4" stroke="#ffffff" stroke-opacity="0.75" stroke-width="4.65"/>
<path d="M1198.9 452.3 L1200.4 451.9 L1202.0 451.9 L1203.5 452.6 L1205.0 452.6 L1206.5 451.8 L1208.1 450.6 L1209.6 450.2 L1211.1 450.8 L1212.7 451.3 L1214.2 451.8 L1215.7 451.5 L1217.3 450.8 L1218.8 451.5 L1220.3 452.1 L1221.8 451.4 L1223.4 450.8 L1224.9 451.4 L1226.4 452.2 L1228.0 452.6 L1229.5 452.0 L1231.0 450.7 L1232.6 450.8 L1234.1 451.0 L1235.6 450.5 L1237.1 451.0 L1238.7 450.9 L1240.2 451.4 L1241.7 452.6 L1243.3 451.9 L1244.8 451.3 L1246.3 451.6 L1247.9 451.3 L1249.4 451.0 L1250.9 452.4 L1252.4 453.9 L1254.0 453.5 L1255.5 452.4 L1257.0 452.3 L1258.6 452.6 L1260.1 452.0 L1261.6 451.2 L1263.2 451.6 L1264.7 452.5 L1266.2 453.0 L1267.7 452.6 L1269.3 452.0 L1270.8 451.2 L1272.3 450.9 L1273.9 450.6 L1275.4 450.7 L1276.9 451.4 L1278.5 450.9 L1280.0 450.6 L1281.5 451.0 L1283.0 451.7 L1284.6 451.0 L1286.1 450.0 L1287.6 450.9 L1289.2 452.2 L1290.7 453.4 L1292.2 453.6 L1293.8 451.7 L1295.3 450.6 L1296.8 452.0 L1298.3 451.8 L1299.9 450.5 L1301.4 451.8 L1302.9 452.1 L1304.5 451.2 L1306.0 451.6 L1307.5 451.4 L1309.1 450.7 L1310.6 450.5 L1312.1 450.6 L1313.6 451.4 L1315.2 452.2 L1316.7 453.1 L1318.2 452.9 L1319.8 452.2 L1321.3 451.6 L1322.8 451.1 L1324.4 450.9 L1325.9 450.3 L1327.4 450.5 L1328.9 451.2 L1330.5 451.0 L1332.0 450.6 L1333.5 449.8 L1335.1 450.1 L1336.6 451.9 L1338.1 452.1 L1339.7 451.4 L1341.2 452.1 L1342.7 453.0 L1344.2 453.0 L1345.8 451.5 L1347.3 450.6 L1348.8 450.6 L1350.4 450.3 L1351.9 450.6 L1353.4 451.6 L1355.0 452.3 L1356.5 451.3 L1358.0 449.5 L1359.5 448.9 L1361.1 448.7 L1362.6 447.9 L1364.1 449.2 L1365.7 451.6 L1367.2 451.8 L1368.7 451.5 L1370.3 450.8 L1371.8 449.6 L1373.3 449.9 L1374.8 451.2 L1376.4 452.0 L1377.9 452.0 L1379.4 451.7 L1381.0 452.5 L1382.5 452.2 L1384.0 450.5 L1385.6 450.3 L1387.1 449.8 L1388.6 449.6 L1390.1 451.0 L1391.7 452.4 L1393.2 452.4 L1394.7 451.7 L1396.3 452.0 L1397.8 451.9 L1399.3 450.8 L1400.9 450.2 L1402.4 452.2 L1403.9 453.7 L1405.4 451.6 L1407.0 450.0 L1408.5 450.7 L1410.0 452.6 L1411.6 453.7 L1413.1 453.8 L1414.6 453.2 L1416.2 452.4 L1417.7 451.9 L1419.2 451.5 L1420.7 452.5 L1422.3 452.5 L1423.8 451.3 L1425.3 450.8 L1426.9 449.5 L1428.4 448.3 L1429.9 448.3 L1431.5 448.5 L1433.0 449.1 L1434.5 450.8 L1436.0 452.0 L1437.6 450.7 L1439.1 450.0 L1440.6 450.6 L1442.2 450.6 L1443.7 450.6 L1445.2 451.1 L1446.8 450.7 L1448.3 449.9 L1449.8 450.4 L1451.3 451.0 L1452.9 450.4 L1454.4 450.2 L1455.9 450.8 L1457.5 450.8 L1459.0 450.6 L1460.5 450.8 L1462.1 450.1 L1463.6 449.6 L1465.1 450.1 L1466.6 451.4 L1468.2 453.0 L1469.7 452.0 L1471.2 450.7 L1472.8 451.8 L1474.3 452.8 L1475.8 452.6 L1477.4 451.9 L1478.9 451.9 L1480.4 451.6 L1481.9 450.2 L1483.5 449.2 L1485.0 448.7 L1486.5 447.8 L1488.1 449.1 L1489.6 451.4 L1491.1 451.2 L1492.7 450.1 L1494.2 449.3 L1495.7 449.0 L1497.2 448.9 L1498.8 447.9 L1500.3 448.3 L1501.8 451.1 L1502.6 452.4" stroke="#ffffff" stroke-opacity="0.75" stroke-width="4.65"/>
<path d="M1198.9 450.2 L1200.4 450.2 L1202.0 449.7 L1203.5 449.2 L1205.0 449.3 L1206.5 450.0 L1208.1 450.2 L1209.6 449.9 L1211.1 450.0 L1212.7 450.5 L1214.2 450.6 L1215.7 450.0 L1217.3 449.7 L1218.8 449.6 L1220.3 449.6 L1221.8 449.7 L1223.4 449.9 L1224.9 450.0 L1226.4 449.9 L1228.0 450.1 L1229.5 450.4 L1231.0 449.7 L1232.6 449.3 L1234.1 449.5 L1235.6 449.3 L1237.1 449.9 L1238.7 450.4 L1240.2 450.2 L1241.7 449.6 L1243.3 449.3 L1244.8 449.9 L1246.3 450.0 L1247.9 450.0 L1249.4 450.3 L1250.9 449.6 L1252.4 448.8 L1254.0 449.0 L1255.5 449.7 L1257.0 450.2 L1258.6 450.2 L1260.1 449.8 L1261.6 449.7 L1263.2 449.8 L1264.7 449.3 L1266.2 449.1 L1267.7 449.5 L1269.3 449.3 L1270.8 448.9 L1272.3 448.4 L1273.9 447.6 L1275.4 447.3 L1276.9 447.1 L1278.5 446.6 L1280.0 446.3 L1281.5 445.8 L1283.0 445.4 L1284.6 445.3 L1286.1 444.9 L1287.6 444.8 L1289.2 445.1 L1290.7 444.8 L1292.2 444.1 L1293.8 443.6 L1295.3 443.6 L1296.8 443.2 L1298.3 442.4 L1299.9 441.4 L1301.4 440.9 L1302.9 441.0 L1304.5 440.4 L1306.0 438.4 L1307.5 434.7 L1309.1 432.9 L1310.6 432.8 L1312.1 432.8 L1313.6 432.0 L1315.2 430.4 L1316.7 425.6 L1318.2 421.7 L1319.8 420.2 L1321.3 419.2 L1322.8 416.6 L1324.4 413.3 L1325.9 410.0 L1327.4 406.9 L1328.9 404.3 L1330.5 401.4 L1332.0 397.4 L1333.5 393.7 L1335.1 391.6 L1336.6 388.7 L1338.1 383.7 L1339.7 379.7 L1341.2 378.1 L1342.7 377.0 L1344.2 375.8 L1345.8 374.7 L1347.3 374.4 L1348.8 375.8 L1350.4 377.9 L1351.9 379.3 L1353.4 380.6 L1355.0 382.2 L1356.5 383.0 L1358.0 383.0 L1359.5 383.8 L1361.1 385.3 L1362.6 386.9 L1364.1 389.4 L1365.7 392.6 L1367.2 395.5 L1368.7 399.3 L1370.3 402.8 L1371.8 405.6 L1373.3 407.7 L1374.8 410.0 L1376.4 412.8 L1377.9 414.1 L1379.4 415.5 L1381.0 418.1 L1382.5 421.5 L1384.0 424.5 L1385.6 427.2 L1387.1 429.7 L1388.6 431.9 L1390.1 433.9 L1391.7 435.3 L1393.2 436.4 L1394.7 437.9 L1396.3 439.4 L1397.8 441.1 L1399.3 442.5 L1400.9 442.9 L1402.4 442.9 L1403.9 442.8 L1405.4 442.5 L1407.0 442.9 L1408.5 443.3 L1410.0 443.7 L1411.6 444.7 L1413.1 445.4 L1414.6 445.7 L1416.2 446.1 L1417.7 447.1 L1419.2 447.4 L1420.7 446.9 L1422.3 446.6 L1423.8 446.4 L1425.3 446.5 L1426.9 446.9 L1428.4 447.6 L1429.9 448.9 L1431.5 449.6 L1433.0 449.5 L1434.5 449.4 L1436.0 449.7 L1437.6 449.9 L1439.1 449.7 L1440.6 449.7 L1442.2 450.1 L1443.7 449.5 L1445.2 448.6 L1446.8 448.8 L1448.3 449.6 L1449.8 450.0 L1451.3 449.9 L1452.9 449.5 L1454.4 449.0 L1455.9 448.7 L1457.5 448.3 L1459.0 448.7 L1460.5 449.1 L1462.1 449.3 L1463.6 450.2 L1465.1 450.1 L1466.6 449.3 L1468.2 449.6 L1469.7 449.7 L1471.2 449.6 L1472.8 449.6 L1474.3 449.4 L1475.8 449.5 L1477.4 449.7 L1478.9 449.8 L1480.4 449.7 L1481.9 449.8 L1483.5 450.0 L1485.0 449.7 L1486.5 449.0 L1488.1 449.3 L1489.6 450.2 L1491.1 450.5 L1492.7 449.9 L1494.2 449.6 L1495.7 449.9 L1497.2 449.6 L1498.8 449.1 L1500.3 449.0 L1501.8 448.9 L1502.6 449.1" stroke="#ffffff" stroke-opacity="0.75" stroke-width="4.65"/>
<path d="M1198.9 448.0 L1200.4 448.3 L1202.0 448.6 L1203.5 448.3 L1205.0 448.1 L1206.5 448.5 L1208.1 448.2 L1209.6 447.3 L1211.1 446.9 L1212.7 447.0 L1214.2 447.7 L1215.7 448.6 L1217.3 448.6 L1218.8 447.8 L1220.3 448.1 L1221.8 448.9 L1223.4 448.7 L1224.9 447.8 L1226.4 447.7 L1228.0 447.8 L1229.5 448.2 L1231.0 448.4 L1232.6 448.2 L1234.1 448.2 L1235.6 448.5 L1237.1 448.3 L1238.7 447.8 L1240.2 448.2 L1241.7 448.8 L1243.3 448.4 L1244.8 448.1 L1246.3 448.0 L1247.9 447.7 L1249.4 448.0 L1250.9 448.9 L1252.4 448.6 L1254.0 447.6 L1255.5 447.3 L1257.0 446.8 L1258.6 446.7 L1260.1 447.6 L1261.6 448.2 L1263.2 448.1 L1264.7 447.7 L1266.2 446.9 L1267.7 445.7 L1269.3 444.6 L1270.8 443.8 L1272.3 443.1 L1273.9 441.9 L1275.4 440.2 L1276.9 438.8 L1278.5 438.2 L1280.0 438.3 L1281.5 438.3 L1283.0 437.6 L1284.6 434.8 L1286.1 431.8 L1287.6 430.4 L1289.2 429.4 L1290.7 429.1 L1292.2 428.1 L1293.8 424.3 L1295.3 418.0 L1296.8 414.5 L1298.3 411.3 L1299.9 407.9 L1301.4 403.5 L1302.9 398.3 L1304.5 392.7 L1306.0 386.9 L1307.5 380.6 L1309.1 373.2 L1310.6 364.6 L1312.1 355.4 L1313.6 345.2 L1315.2 334.1 L1316.7 322.3 L1318.2 309.9 L1319.8 297.4 L1321.3 284.7 L1322.8 271.4 L1324.4 258.2 L1325.9 246.0 L1327.4 234.4 L1328.9 222.9 L1330.5 211.9 L1332.0 200.3 L1333.5 187.1 L1335.1 174.7 L1336.6 165.3 L1338.1 158.0 L1339.7 152.6 L1341.2 147.7 L1342.7 142.9 L1344.2 138.8 L1345.8 135.2 L1347.3 131.9 L1348.8 131.3 L1350.4 132.4 L1351.9 134.2 L1353.4 135.7 L1355.0 134.9 L1356.5 133.5 L1358.0 135.7 L1359.5 149.2 L1361.1 162.6 L1362.6 167.7 L1364.1 176.2 L1365.7 191.9 L1367.2 209.4 L1368.7 227.8 L1370.3 247.6 L1371.8 270.1 L1373.3 287.3 L1374.8 296.9 L1376.4 308.6 L1377.9 333.0 L1379.4 348.8 L1381.0 360.1 L1382.5 367.3 L1384.0 371.2 L1385.6 376.1 L1387.1 383.3 L1388.6 390.1 L1390.1 395.5 L1391.7 400.5 L1393.2 407.3 L1394.7 412.4 L1396.3 414.7 L1397.8 418.4 L1399.3 425.4 L1400.9 427.9 L1402.4 429.0 L1403.9 430.4 L1405.4 432.3 L1407.0 434.6 L1408.5 436.7 L1410.0 437.9 L1411.6 438.7 L1413.1 439.6 L1414.6 440.2 L1416.2 440.9 L1417.7 442.8 L1419.2 444.2 L1420.7 445.2 L1422.3 446.8 L1423.8 447.3 L1425.3 447.2 L1426.9 448.2 L1428.4 449.4 L1429.9 449.5 L1431.5 449.4 L1433.0 449.8 L1434.5 449.8 L1436.0 449.5 L1437.6 449.9 L1439.1 450.8 L1440.6 450.7 L1442.2 449.9 L1443.7 450.0 L1445.2 450.9 L1446.8 450.9 L1448.3 450.4 L1449.8 450.3 L1451.3 450.6 L1452.9 450.4 L1454.4 449.8 L1455.9 450.1 L1457.5 450.0 L1459.0 449.6 L1460.5 449.7 L1462.1 449.6 L1463.6 449.8 L1465.1 450.2 L1466.6 450.5 L1468.2 450.5 L1469.7 450.2 L1471.2 450.2 L1472.8 450.2 L1474.3 450.2 L1475.8 450.6 L1477.4 450.6 L1478.9 450.2 L1480.4 450.6 L1481.9 451.5 L1483.5 451.4 L1485.0 450.8 L1486.5 451.0 L1488.1 451.3 L1489.6 451.3 L1491.1 451.4 L1492.7 450.7 L1494.2 449.9 L1495.7 451.1 L1497.2 452.2 L1498.8 451.1 L1500.3 450.3 L1501.8 450.3 L1502.6 450.2" stroke="#ffa347" stroke-width="2.85"/>
<path d="M1198.9 450.4 L1200.4 450.3 L1202.0 450.8 L1203.5 450.6 L1205.0 449.7 L1206.5 449.7 L1208.1 450.2 L1209.6 450.4 L1211.1 450.3 L1212.7 450.3 L1214.2 450.8 L1215.7 451.0 L1217.3 450.9 L1218.8 451.0 L1220.3 450.7 L1221.8 450.3 L1223.4 450.3 L1224.9 450.4 L1226.4 450.6 L1228.0 450.6 L1229.5 450.3 L1231.0 450.4 L1232.6 450.8 L1234.1 450.6 L1235.6 450.2 L1237.1 450.4 L1238.7 450.7 L1240.2 450.8 L1241.7 450.8 L1243.3 451.1 L1244.8 451.3 L1246.3 450.6 L1247.9 450.0 L1249.4 450.1 L1250.9 450.6 L1252.4 450.7 L1254.0 450.2 L1255.5 449.6 L1257.0 449.7 L1258.6 450.2 L1260.1 450.3 L1261.6 450.0 L1263.2 449.5 L1264.7 449.5 L1266.2 449.5 L1267.7 449.5 L1269.3 449.3 L1270.8 449.0 L1272.3 448.6 L1273.9 448.1 L1275.4 447.7 L1276.9 447.0 L1278.5 445.9 L1280.0 445.3 L1281.5 444.7 L1283.0 443.8 L1284.6 443.3 L1286.1 442.6 L1287.6 441.3 L1289.2 439.9 L1290.7 438.2 L1292.2 436.9 L1293.8 435.9 L1295.3 434.6 L1296.8 433.0 L1298.3 430.9 L1299.9 428.4 L1301.4 426.1 L1302.9 424.0 L1304.5 420.9 L1306.0 417.3 L1307.5 413.8 L1309.1 410.4 L1310.6 406.7 L1312.1 402.4 L1313.6 397.4 L1315.2 391.3 L1316.7 384.4 L1318.2 377.1 L1319.8 369.7 L1321.3 362.7 L1322.8 355.7 L1324.4 348.8 L1325.9 341.9 L1327.4 334.6 L1328.9 327.2 L1330.5 319.9 L1332.0 314.0 L1333.5 310.2 L1335.1 307.1 L1336.6 304.3 L1338.1 301.4 L1339.7 298.2 L1341.2 293.9 L1342.7 288.1 L1344.2 284.1 L1345.8 284.0 L1347.3 285.8 L1348.8 287.4 L1350.4 287.4 L1351.9 287.6 L1353.4 288.0 L1355.0 288.4 L1356.5 289.6 L1358.0 291.0 L1359.5 292.5 L1361.1 294.3 L1362.6 296.0 L1364.1 297.6 L1365.7 299.2 L1367.2 302.4 L1368.7 306.9 L1370.3 313.8 L1371.8 323.8 L1373.3 332.2 L1374.8 340.1 L1376.4 348.7 L1377.9 358.3 L1379.4 369.3 L1381.0 381.9 L1382.5 385.6 L1384.0 388.7 L1385.6 394.0 L1387.1 402.3 L1388.6 408.2 L1390.1 412.8 L1391.7 417.3 L1393.2 422.1 L1394.7 427.0 L1396.3 430.6 L1397.8 433.0 L1399.3 435.2 L1400.9 437.3 L1402.4 438.6 L1403.9 439.2 L1405.4 440.5 L1407.0 442.1 L1408.5 443.7 L1410.0 445.2 L1411.6 446.1 L1413.1 445.8 L1414.6 445.2 L1416.2 445.5 L1417.7 446.5 L1419.2 447.2 L1420.7 447.6 L1422.3 448.1 L1423.8 448.9 L1425.3 449.5 L1426.9 449.4 L1428.4 449.1 L1429.9 448.6 L1431.5 448.5 L1433.0 449.0 L1434.5 449.7 L1436.0 450.2 L1437.6 450.2 L1439.1 450.0 L1440.6 449.5 L1442.2 449.0 L1443.7 449.0 L1445.2 449.7 L1446.8 450.3 L1448.3 450.1 L1449.8 449.8 L1451.3 449.9 L1452.9 450.1 L1454.4 450.2 L1455.9 449.9 L1457.5 449.8 L1459.0 449.8 L1460.5 450.0 L1462.1 449.7 L1463.6 449.3 L1465.1 449.4 L1466.6 450.2 L1468.2 450.8 L1469.7 450.5 L1471.2 450.2 L1472.8 450.5 L1474.3 450.8 L1475.8 450.5 L1477.4 450.4 L1478.9 450.7 L1480.4 451.0 L1481.9 451.0 L1483.5 450.5 L1485.0 449.7 L1486.5 449.9 L1488.1 451.1 L1489.6 451.3 L1491.1 450.6 L1492.7 450.5 L1494.2 450.7 L1495.7 450.1 L1497.2 450.0 L1498.8 450.5 L1500.3 450.5 L1501.8 450.4 L1502.6 450.4" stroke="#3f9c3c" stroke-width="2.85"/>
<path d="M1198.9 452.3 L1200.4 451.9 L1202.0 451.9 L1203.5 452.6 L1205.0 452.6 L1206.5 451.8 L1208.1 450.6 L1209.6 450.2 L1211.1 450.8 L1212.7 451.3 L1214.2 451.8 L1215.7 451.5 L1217.3 450.8 L1218.8 451.5 L1220.3 452.1 L1221.8 451.4 L1223.4 450.8 L1224.9 451.4 L1226.4 452.2 L1228.0 452.6 L1229.5 452.0 L1231.0 450.7 L1232.6 450.8 L1234.1 451.0 L1235.6 450.5 L1237.1 451.0 L1238.7 450.9 L1240.2 451.4 L1241.7 452.6 L1243.3 451.9 L1244.8 451.3 L1246.3 451.6 L1247.9 451.3 L1249.4 451.0 L1250.9 452.4 L1252.4 453.9 L1254.0 453.5 L1255.5 452.4 L1257.0 452.3 L1258.6 452.6 L1260.1 452.0 L1261.6 451.2 L1263.2 451.6 L1264.7 452.5 L1266.2 453.0 L1267.7 452.6 L1269.3 452.0 L1270.8 451.2 L1272.3 450.9 L1273.9 450.6 L1275.4 450.7 L1276.9 451.4 L1278.5 450.9 L1280.0 450.6 L1281.5 451.0 L1283.0 451.7 L1284.6 451.0 L1286.1 450.0 L1287.6 450.9 L1289.2 452.2 L1290.7 453.4 L1292.2 453.6 L1293.8 451.7 L1295.3 450.6 L1296.8 452.0 L1298.3 451.8 L1299.9 450.5 L1301.4 451.8 L1302.9 452.1 L1304.5 451.2 L1306.0 451.6 L1307.5 451.4 L1309.1 450.7 L1310.6 450.5 L1312.1 450.6 L1313.6 451.4 L1315.2 452.2 L1316.7 453.1 L1318.2 452.9 L1319.8 452.2 L1321.3 451.6 L1322.8 451.1 L1324.4 450.9 L1325.9 450.3 L1327.4 450.5 L1328.9 451.2 L1330.5 451.0 L1332.0 450.6 L1333.5 449.8 L1335.1 450.1 L1336.6 451.9 L1338.1 452.1 L1339.7 451.4 L1341.2 452.1 L1342.7 453.0 L1344.2 453.0 L1345.8 451.5 L1347.3 450.6 L1348.8 450.6 L1350.4 450.3 L1351.9 450.6 L1353.4 451.6 L1355.0 452.3 L1356.5 451.3 L1358.0 449.5 L1359.5 448.9 L1361.1 448.7 L1362.6 447.9 L1364.1 449.2 L1365.7 451.6 L1367.2 451.8 L1368.7 451.5 L1370.3 450.8 L1371.8 449.6 L1373.3 449.9 L1374.8 451.2 L1376.4 452.0 L1377.9 452.0 L1379.4 451.7 L1381.0 452.5 L1382.5 452.2 L1384.0 450.5 L1385.6 450.3 L1387.1 449.8 L1388.6 449.6 L1390.1 451.0 L1391.7 452.4 L1393.2 452.4 L1394.7 451.7 L1396.3 452.0 L1397.8 451.9 L1399.3 450.8 L1400.9 450.2 L1402.4 452.2 L1403.9 453.7 L1405.4 451.6 L1407.0 450.0 L1408.5 450.7 L1410.0 452.6 L1411.6 453.7 L1413.1 453.8 L1414.6 453.2 L1416.2 452.4 L1417.7 451.9 L1419.2 451.5 L1420.7 452.5 L1422.3 452.5 L1423.8 451.3 L1425.3 450.8 L1426.9 449.5 L1428.4 448.3 L1429.9 448.3 L1431.5 448.5 L1433.0 449.1 L1434.5 450.8 L1436.0 452.0 L1437.6 450.7 L1439.1 450.0 L1440.6 450.6 L1442.2 450.6 L1443.7 450.6 L1445.2 451.1 L1446.8 450.7 L1448.3 449.9 L1449.8 450.4 L1451.3 451.0 L1452.9 450.4 L1454.4 450.2 L1455.9 450.8 L1457.5 450.8 L1459.0 450.6 L1460.5 450.8 L1462.1 450.1 L1463.6 449.6 L1465.1 450.1 L1466.6 451.4 L1468.2 453.0 L1469.7 452.0 L1471.2 450.7 L1472.8 451.8 L1474.3 452.8 L1475.8 452.6 L1477.4 451.9 L1478.9 451.9 L1480.4 451.6 L1481.9 450.2 L1483.5 449.2 L1485.0 448.7 L1486.5 447.8 L1488.1 449.1 L1489.6 451.4 L1491.1 451.2 L1492.7 450.1 L1494.2 449.3 L1495.7 449.0 L1497.2 448.9 L1498.8 447.9 L1500.3 448.3 L1501.8 451.1 L1502.6 452.4" stroke="#ff45a5" stroke-width="2.85"/>
<path d="M1198.9 450.2 L1200.4 450.2 L1202.0 449.7 L1203.5 449.2 L1205.0 449.3 L1206.5 450.0 L1208.1 450.2 L1209.6 449.9 L1211.1 450.0 L1212.7 450.5 L1214.2 450.6 L1215.7 450.0 L1217.3 449.7 L1218.8 449.6 L1220.3 449.6 L1221.8 449.7 L1223.4 449.9 L1224.9 450.0 L1226.4 449.9 L1228.0 450.1 L1229.5 450.4 L1231.0 449.7 L1232.6 449.3 L1234.1 449.5 L1235.6 449.3 L1237.1 449.9 L1238.7 450.4 L1240.2 450.2 L1241.7 449.6 L1243.3 449.3 L1244.8 449.9 L1246.3 450.0 L1247.9 450.0 L1249.4 450.3 L1250.9 449.6 L1252.4 448.8 L1254.0 449.0 L1255.5 449.7 L1257.0 450.2 L1258.6 450.2 L1260.1 449.8 L1261.6 449.7 L1263.2 449.8 L1264.7 449.3 L1266.2 449.1 L1267.7 449.5 L1269.3 449.3 L1270.8 448.9 L1272.3 448.4 L1273.9 447.6 L1275.4 447.3 L1276.9 447.1 L1278.5 446.6 L1280.0 446.3 L1281.5 445.8 L1283.0 445.4 L1284.6 445.3 L1286.1 444.9 L1287.6 444.8 L1289.2 445.1 L1290.7 444.8 L1292.2 444.1 L1293.8 443.6 L1295.3 443.6 L1296.8 443.2 L1298.3 442.4 L1299.9 441.4 L1301.4 440.9 L1302.9 441.0 L1304.5 440.4 L1306.0 438.4 L1307.5 434.7 L1309.1 432.9 L1310.6 432.8 L1312.1 432.8 L1313.6 432.0 L1315.2 430.4 L1316.7 425.6 L1318.2 421.7 L1319.8 420.2 L1321.3 419.2 L1322.8 416.6 L1324.4 413.3 L1325.9 410.0 L1327.4 406.9 L1328.9 404.3 L1330.5 401.4 L1332.0 397.4 L1333.5 393.7 L1335.1 391.6 L1336.6 388.7 L1338.1 383.7 L1339.7 379.7 L1341.2 378.1 L1342.7 377.0 L1344.2 375.8 L1345.8 374.7 L1347.3 374.4 L1348.8 375.8 L1350.4 377.9 L1351.9 379.3 L1353.4 380.6 L1355.0 382.2 L1356.5 383.0 L1358.0 383.0 L1359.5 383.8 L1361.1 385.3 L1362.6 386.9 L1364.1 389.4 L1365.7 392.6 L1367.2 395.5 L1368.7 399.3 L1370.3 402.8 L1371.8 405.6 L1373.3 407.7 L1374.8 410.0 L1376.4 412.8 L1377.9 414.1 L1379.4 415.5 L1381.0 418.1 L1382.5 421.5 L1384.0 424.5 L1385.6 427.2 L1387.1 429.7 L1388.6 431.9 L1390.1 433.9 L1391.7 435.3 L1393.2 436.4 L1394.7 437.9 L1396.3 439.4 L1397.8 441.1 L1399.3 442.5 L1400.9 442.9 L1402.4 442.9 L1403.9 442.8 L1405.4 442.5 L1407.0 442.9 L1408.5 443.3 L1410.0 443.7 L1411.6 444.7 L1413.1 445.4 L1414.6 445.7 L1416.2 446.1 L1417.7 447.1 L1419.2 447.4 L1420.7 446.9 L1422.3 446.6 L1423.8 446.4 L1425.3 446.5 L1426.9 446.9 L1428.4 447.6 L1429.9 448.9 L1431.5 449.6 L1433.0 449.5 L1434.5 449.4 L1436.0 449.7 L1437.6 449.9 L1439.1 449.7 L1440.6 449.7 L1442.2 450.1 L1443.7 449.5 L1445.2 448.6 L1446.8 448.8 L1448.3 449.6 L1449.8 450.0 L1451.3 449.9 L1452.9 449.5 L1454.4 449.0 L1455.9 448.7 L1457.5 448.3 L1459.0 448.7 L1460.5 449.1 L1462.1 449.3 L1463.6 450.2 L1465.1 450.1 L1466.6 449.3 L1468.2 449.6 L1469.7 449.7 L1471.2 449.6 L1472.8 449.6 L1474.3 449.4 L1475.8 449.5 L1477.4 449.7 L1478.9 449.8 L1480.4 449.7 L1481.9 449.8 L1483.5 450.0 L1485.0 449.7 L1486.5 449.0 L1488.1 449.3 L1489.6 450.2 L1491.1 450.5 L1492.7 449.9 L1494.2 449.6 L1495.7 449.9 L1497.2 449.6 L1498.8 449.1 L1500.3 449.0 L1501.8 448.9 L1502.6 449.1" stroke="#dd66ff" stroke-width="2.85"/>
</g>
<line x1="1360.7" y1="149.4" x2="1386.0" y2="130.5" stroke="#444444" stroke-width="2"/>
<line x1="1365.8" y1="294.7" x2="1390.3" y2="275.7" stroke="#444444" stroke-width="2"/>
<line x1="1378.6" y1="413.4" x2="1402.7" y2="394.6" stroke="#444444" stroke-width="2"/>
<line x1="1379.6" y1="452.4" x2="1407.5" y2="461.2" stroke="#444444" stroke-width="2"/>
<rect x="1409" y="456" width="54" height="21" fill="#ffffff" fill-opacity="0.35"/>
<text x="1389.00" y="132.50" font-size="25.00">0 h</text>
<text x="1393.60" y="279.90" font-size="25.00">24 h</text>
<text x="1407.40" y="398.90" font-size="25.00">48 h</text>
<text x="1409.90" y="474.40" font-size="25.00">72 h</text>
<rect x="78.75" y="9.15" width="304.85" height="479.35" fill="none" stroke="#5a5a5a" stroke-width="1.7" stroke-linejoin="round"/>
<rect x="450.70" y="12.30" width="304.60" height="475.50" fill="none" stroke="#5a5a5a" stroke-width="1.7" stroke-linejoin="round"/>
<rect x="825.40" y="12.30" width="304.30" height="474.70" fill="none" stroke="#5a5a5a" stroke-width="1.7" stroke-linejoin="round"/>
<rect x="1198.90" y="17.40" width="303.70" height="470.40" fill="none" stroke="#5a5a5a" stroke-width="1.7" stroke-linejoin="round"/>
<line x1="154.40" y1="488.50" x2="154.40" y2="494.80" stroke="#5a5a5a" stroke-width="1.7"/>
<line x1="307.40" y1="488.50" x2="307.40" y2="494.80" stroke="#5a5a5a" stroke-width="1.7"/>
<line x1="78.75" y1="488.50" x2="78.75" y2="491.80" stroke="#5a5a5a" stroke-width="1.4"/>
<line x1="231.00" y1="488.50" x2="231.00" y2="491.80" stroke="#5a5a5a" stroke-width="1.4"/>
<line x1="383.60" y1="488.50" x2="383.60" y2="491.80" stroke="#5a5a5a" stroke-width="1.4"/>
<line x1="481.20" y1="487.80" x2="481.20" y2="494.10" stroke="#5a5a5a" stroke-width="1.7"/>
<line x1="603.00" y1="487.80" x2="603.00" y2="494.10" stroke="#5a5a5a" stroke-width="1.7"/>
<line x1="724.80" y1="487.80" x2="724.80" y2="494.10" stroke="#5a5a5a" stroke-width="1.7"/>
<line x1="542.10" y1="487.80" x2="542.10" y2="491.10" stroke="#5a5a5a" stroke-width="1.4"/>
<line x1="663.90" y1="487.80" x2="663.90" y2="491.10" stroke="#5a5a5a" stroke-width="1.4"/>
<line x1="916.30" y1="487.00" x2="916.30" y2="493.30" stroke="#5a5a5a" stroke-width="1.7"/>
<line x1="1038.60" y1="487.00" x2="1038.60" y2="493.30" stroke="#5a5a5a" stroke-width="1.7"/>
<line x1="855.50" y1="487.00" x2="855.50" y2="490.30" stroke="#5a5a5a" stroke-width="1.4"/>
<line x1="977.40" y1="487.00" x2="977.40" y2="490.30" stroke="#5a5a5a" stroke-width="1.4"/>
<line x1="1099.20" y1="487.00" x2="1099.20" y2="490.30" stroke="#5a5a5a" stroke-width="1.4"/>
<line x1="1198.90" y1="487.80" x2="1198.90" y2="494.10" stroke="#5a5a5a" stroke-width="1.7"/>
<line x1="1350.70" y1="487.80" x2="1350.70" y2="494.10" stroke="#5a5a5a" stroke-width="1.7"/>
<line x1="1502.60" y1="487.80" x2="1502.60" y2="494.10" stroke="#5a5a5a" stroke-width="1.7"/>
<line x1="1274.90" y1="487.80" x2="1274.90" y2="491.10" stroke="#5a5a5a" stroke-width="1.4"/>
<line x1="1426.70" y1="487.80" x2="1426.70" y2="491.10" stroke="#5a5a5a" stroke-width="1.4"/>
<text x="154.40" y="527.10" font-size="29.30" text-anchor="middle">29</text>
<text x="307.40" y="527.10" font-size="29.30" text-anchor="middle">30</text>
<text x="481.20" y="527.10" font-size="29.30" text-anchor="middle">28</text>
<text x="603.00" y="527.10" font-size="29.30" text-anchor="middle">29</text>
<text x="724.80" y="527.10" font-size="29.30" text-anchor="middle">30</text>
<text x="916.30" y="527.10" font-size="29.30" text-anchor="middle">28</text>
<text x="1038.60" y="527.10" font-size="29.30" text-anchor="middle">29</text>
<text x="1198.90" y="527.10" font-size="29.30" text-anchor="middle">13</text>
<text x="1350.70" y="527.10" font-size="29.30" text-anchor="middle">14</text>
<text x="1502.60" y="527.10" font-size="29.30" text-anchor="middle">15</text>
<text x="199.70" y="566.80" font-size="29.30">2</text>
<text x="216.90" y="566.80" font-size="29.30" font-family="'Liberation Serif', 'Times New Roman', serif" font-style="italic" stroke="#ffffff" stroke-width="0.45">&#952;</text>
<text x="241.20" y="566.80" font-size="29.30">(&#176;)</text>
<text x="570.40" y="566.80" font-size="29.30">2</text>
<text x="587.60" y="566.80" font-size="29.30" font-family="'Liberation Serif', 'Times New Roman', serif" font-style="italic" stroke="#ffffff" stroke-width="0.45">&#952;</text>
<text x="611.90" y="566.80" font-size="29.30">(&#176;)</text>
<text x="948.50" y="566.80" font-size="29.30">2</text>
<text x="965.70" y="566.80" font-size="29.30" font-family="'Liberation Serif', 'Times New Roman', serif" font-style="italic" stroke="#ffffff" stroke-width="0.45">&#952;</text>
<text x="990.00" y="566.80" font-size="29.30">(&#176;)</text>
<text x="1317.40" y="566.80" font-size="29.30">2</text>
<text x="1334.60" y="566.80" font-size="29.30" font-family="'Liberation Serif', 'Times New Roman', serif" font-style="italic" stroke="#ffffff" stroke-width="0.45">&#952;</text>
<text x="1358.90" y="566.80" font-size="29.30">(&#176;)</text>
<text transform="translate(59.60 339.30) rotate(-90)" x="0" y="0" font-size="29.30">Intensity (a.u.)</text>
<text transform="translate(430.50 342.50) rotate(-90)" x="0" y="0" font-size="29.30">Intensity (a.u.)</text>
<text transform="translate(805.50 342.50) rotate(-90)" x="0" y="0" font-size="29.30">Intensity (a.u.)</text>
<text transform="translate(1178.60 342.50) rotate(-90)" x="0" y="0" font-size="29.30">Intensity (a.u.)</text>
<text x="152.72" y="44.40"><tspan font-size="25.20">CsSn</tspan><tspan font-size="16.70" dy="8.30">0.5</tspan><tspan font-size="25.20" dy="-8.30">Ge</tspan><tspan font-size="16.70" dy="8.30">0.5</tspan><tspan font-size="25.20" dy="-8.30">I</tspan><tspan font-size="16.70" dy="8.30">3</tspan></text>
<text x="637.32" y="47.00"><tspan font-size="25.20">CsSnI</tspan><tspan font-size="16.70" dy="8.30">3</tspan></text>
<text x="1015.32" y="47.00"><tspan font-size="25.20">CsPbI</tspan><tspan font-size="16.70" dy="8.30">3</tspan></text>
<text x="1379.83" y="47.00"><tspan font-size="25.20">MAPbI</tspan><tspan font-size="16.70" dy="8.30">3</tspan></text>
<text x="-0.03" y="27.70" font-size="42.0" font-weight="bold">a</text>
<text x="418.13" y="29.90" font-size="42.0" font-weight="bold">b</text>
<text x="785.66" y="30.30" font-size="42.0" font-weight="bold">c</text>
<text x="1157.38" y="29.90" font-size="42.0" font-weight="bold">d</text>
<text x="-0.64" y="633.40" font-size="42.0" font-weight="bold">e</text>
<rect x="105.20" y="632.50" width="1395.60" height="398.80" fill="url(#ge)"/>
<rect x="103.60" y="630.90" width="1398.80" height="402.00" fill="none" stroke="#5a5a5a" stroke-width="1.7" stroke-linejoin="round"/>
<line x1="103.60" y1="1032.90" x2="103.60" y2="1040.70" stroke="#5a5a5a" stroke-width="1.7"/>
<line x1="569.80" y1="1032.90" x2="569.80" y2="1040.70" stroke="#5a5a5a" stroke-width="1.7"/>
<line x1="1036.00" y1="1032.90" x2="1036.00" y2="1040.70" stroke="#5a5a5a" stroke-width="1.7"/>
<line x1="1502.40" y1="1032.90" x2="1502.40" y2="1040.70" stroke="#5a5a5a" stroke-width="1.7"/>
<line x1="336.70" y1="1032.90" x2="336.70" y2="1036.70" stroke="#5a5a5a" stroke-width="1.4"/>
<line x1="802.90" y1="1032.90" x2="802.90" y2="1036.70" stroke="#5a5a5a" stroke-width="1.4"/>
<line x1="1269.20" y1="1032.90" x2="1269.20" y2="1036.70" stroke="#5a5a5a" stroke-width="1.4"/>
<line x1="103.60" y1="631.00" x2="96.00" y2="631.00" stroke="#5a5a5a" stroke-width="1.7"/>
<line x1="103.60" y1="832.00" x2="96.00" y2="832.00" stroke="#5a5a5a" stroke-width="1.7"/>
<line x1="103.60" y1="1032.90" x2="96.00" y2="1032.90" stroke="#5a5a5a" stroke-width="1.7"/>
<line x1="103.60" y1="731.40" x2="99.90" y2="731.40" stroke="#5a5a5a" stroke-width="1.4"/>
<line x1="103.60" y1="932.40" x2="99.90" y2="932.40" stroke="#5a5a5a" stroke-width="1.4"/>
<g clip-path="url(#clipe)">
<path d="M119.21 631.54L130.16 631.91M144.27 632.40L155.22 632.77M169.33 633.26L180.28 633.63M194.39 634.12L205.34 634.49M219.45 634.98L230.40 635.35M244.51 635.84L255.46 636.21M269.57 636.70L280.52 637.07M294.63 637.56L305.58 637.93M319.69 638.42L330.64 638.79M344.75 639.28L355.70 639.65M369.81 640.14L380.76 640.51M394.87 641.00L405.82 641.37M419.93 641.86L430.88 642.23M444.99 642.72L455.94 643.09M470.05 643.58L481.00 643.95M495.11 644.44L506.06 644.81M520.17 645.30L531.12 645.67M545.23 646.16L556.18 646.53" stroke="#ffffff" stroke-opacity="0.7" stroke-width="4.6" fill="none" stroke-linecap="square"/>
<path d="M585.30 647.00L596.30 647.00M610.36 647.00L621.36 647.00M635.42 647.00L646.42 647.00M660.48 647.00L671.48 647.00M685.54 647.00L696.54 647.00M710.60 647.00L721.60 647.00M735.66 647.00L746.66 647.00M760.72 647.00L771.72 647.00M785.78 647.00L796.78 647.00M810.84 647.00L821.84 647.00M835.90 647.00L846.90 647.00M860.96 647.00L871.96 647.00M886.02 647.00L897.02 647.00M911.08 647.00L922.08 647.00M936.14 647.00L947.14 647.00M961.20 647.00L972.20 647.00M986.26 647.00L997.26 647.00M1011.32 647.00L1022.32 647.00" stroke="#ffffff" stroke-opacity="0.7" stroke-width="4.6" fill="none" stroke-linecap="square"/>
<path d="M1051.52 647.12L1062.51 647.20M1076.58 647.30L1087.57 647.39M1101.64 647.49L1112.63 647.58M1126.70 647.68L1137.69 647.76M1151.76 647.87L1162.75 647.95M1176.82 648.06L1187.81 648.14M1201.88 648.24L1212.87 648.33M1226.94 648.43L1237.93 648.52M1252.00 648.62L1262.99 648.70M1277.06 648.81L1288.05 648.89M1302.12 649.00L1313.11 649.08M1327.18 649.19L1338.17 649.27M1352.24 649.37L1363.23 649.46M1377.30 649.56L1388.29 649.64M1402.36 649.75L1413.35 649.83M1427.42 649.94L1438.41 650.02M1452.48 650.13L1463.47 650.21M1477.54 650.31L1488.53 650.40" stroke="#ffffff" stroke-opacity="0.7" stroke-width="4.6" fill="none" stroke-linecap="square"/>
<path d="M120.52 638.30L130.89 642.77M145.58 649.10L155.95 653.57M170.64 659.91L181.01 664.37M195.70 670.71L206.07 675.18M220.76 681.51L231.13 685.98M245.82 692.32L256.19 696.79M270.88 703.12L281.25 707.59M295.94 713.93L306.31 718.40M321.00 724.73L331.37 729.20M346.06 735.54L356.43 740.01M371.12 746.34L381.49 750.81M396.18 757.15L406.55 761.62M421.24 767.95L431.61 772.42M446.30 778.75L456.67 783.22M471.36 789.56L481.73 794.03M496.42 800.36L506.79 804.83M521.48 811.17L531.85 815.64M546.54 821.97L556.91 826.44" stroke="#ffffff" stroke-opacity="0.7" stroke-width="4.5" fill="none" stroke-linecap="square"/>
<path d="M586.10 835.94L596.72 838.50M611.16 841.99L621.78 844.55M636.22 848.04L646.84 850.61M661.28 854.09L671.90 856.66M686.34 860.15L696.96 862.71M711.40 866.20L722.02 868.77M736.46 872.25L747.08 874.82M761.52 878.30L772.14 880.87M786.58 884.36L797.20 886.92M811.64 890.41L822.26 892.98M836.70 896.46L847.32 899.03M861.76 902.52L872.38 905.08M886.82 908.57L897.44 911.13M911.88 914.62L922.50 917.19M936.94 920.67L947.56 923.24M962.00 926.73L972.62 929.29M987.06 932.78L997.68 935.35M1012.12 938.83L1022.74 941.40" stroke="#ffffff" stroke-opacity="0.7" stroke-width="4.5" fill="none" stroke-linecap="square"/>
<path d="M1052.07 947.35L1062.80 949.19M1077.13 951.65L1087.86 953.48M1102.19 955.94L1112.92 957.78M1127.25 960.23L1137.98 962.07M1152.31 964.52L1163.04 966.36M1177.37 968.82L1188.10 970.66M1202.43 973.11L1213.16 974.95M1227.49 977.40L1238.22 979.24M1252.55 981.70L1263.28 983.54M1277.61 985.99L1288.34 987.83M1302.67 990.28L1313.40 992.12M1327.73 994.58L1338.46 996.41M1352.79 998.87L1363.52 1000.71M1377.85 1003.16L1388.58 1005.00M1402.91 1007.46L1413.64 1009.29M1427.97 1011.75L1438.70 1013.59M1453.03 1016.04L1463.76 1017.88M1478.09 1020.33L1488.82 1022.17" stroke="#ffffff" stroke-opacity="0.7" stroke-width="4.5" fill="none" stroke-linecap="square"/>
<path d="M121.38 643.26L131.47 650.22M146.44 660.54L156.53 667.50M171.50 677.82L181.59 684.78M196.56 695.10L206.65 702.06M221.62 712.39L231.71 719.35M246.68 729.67L256.77 736.63M271.74 746.95L281.83 753.91M296.80 764.23L306.89 771.19M321.86 781.51L331.95 788.47M346.92 798.79L357.01 805.75M371.98 816.08L382.07 823.04M397.04 833.36L407.13 840.32M422.10 850.64L432.19 857.60M447.16 867.92L457.25 874.88M472.22 885.20L482.31 892.16M497.28 902.49L507.37 909.45M522.34 919.77L532.43 926.73M547.40 937.05L557.49 944.01" stroke="#ffffff" stroke-opacity="0.7" stroke-width="4.5" fill="none" stroke-linecap="square"/>
<path d="M585.75 954.69L596.54 956.17M610.81 958.13L621.60 959.61M635.87 961.57L646.66 963.05M660.93 965.01L671.72 966.49M685.99 968.45L696.78 969.93M711.05 971.89L721.84 973.37M736.11 975.33L746.90 976.81M761.17 978.77L771.96 980.25M786.23 982.21L797.02 983.69M811.29 985.65L822.08 987.13M836.35 989.09L847.14 990.57M861.41 992.53L872.20 994.01M886.47 995.97L897.26 997.45M911.53 999.41L922.32 1000.89M936.59 1002.85L947.38 1004.33M961.65 1006.29L972.44 1007.77M986.71 1009.73L997.50 1011.21M1011.77 1013.17L1022.56 1014.65" stroke="#ffffff" stroke-opacity="0.7" stroke-width="4.5" fill="none" stroke-linecap="square"/>
<path d="M1051.53 1016.64L1062.52 1016.74M1076.59 1016.87L1087.58 1016.98M1101.65 1017.11L1112.64 1017.21M1126.71 1017.34L1137.70 1017.44M1151.77 1017.57L1162.76 1017.67M1176.83 1017.80L1187.82 1017.90M1201.89 1018.03L1212.88 1018.13M1226.95 1018.26L1237.94 1018.36M1252.01 1018.49L1263.00 1018.59M1277.07 1018.72L1288.06 1018.82M1302.13 1018.95L1313.12 1019.05M1327.19 1019.18L1338.18 1019.29M1352.25 1019.42L1363.24 1019.52M1377.31 1019.65L1388.30 1019.75M1402.37 1019.88L1413.36 1019.98M1427.43 1020.11L1438.42 1020.21M1452.49 1020.34L1463.48 1020.44M1477.55 1020.57L1488.54 1020.67" stroke="#ffffff" stroke-opacity="0.7" stroke-width="4.5" fill="none" stroke-linecap="square"/>
<path d="M121.86 646.26L131.83 654.59M146.92 667.20L156.89 675.54M171.98 688.14L181.95 696.48M197.04 709.09L207.01 717.42M222.10 730.03L232.07 738.36M247.16 750.97L257.13 759.31M272.22 771.91L282.19 780.25M297.28 792.86L307.25 801.19M322.34 813.80L332.31 822.13M347.40 834.74L357.37 843.08M372.46 855.68L382.43 864.02M397.52 876.62L407.49 884.96M422.58 897.57L432.55 905.90M447.64 918.51L457.61 926.85M472.70 939.45L482.67 947.79M497.76 960.39L507.73 968.73M522.82 981.34L532.79 989.67M547.88 1002.28L557.85 1010.61" stroke="#ffffff" stroke-opacity="0.7" stroke-width="4.5" fill="none" stroke-linecap="square"/>
<path d="M585.33 1020.73L596.31 1020.82M610.39 1020.94L621.37 1021.03M635.45 1021.15L646.43 1021.24M660.51 1021.36L671.49 1021.45M685.57 1021.57L696.55 1021.66M710.63 1021.78L721.61 1021.87M735.69 1021.99L746.67 1022.08M760.75 1022.20L771.73 1022.29M785.81 1022.41L796.79 1022.50M810.87 1022.62L821.85 1022.71M835.93 1022.83L846.91 1022.92M860.99 1023.04L871.97 1023.13M886.05 1023.25L897.03 1023.34M911.11 1023.46L922.09 1023.55M936.17 1023.66L947.15 1023.76M961.23 1023.87L972.21 1023.97M986.29 1024.08L997.27 1024.18M1011.35 1024.29L1022.33 1024.39" stroke="#ffffff" stroke-opacity="0.7" stroke-width="4.5" fill="none" stroke-linecap="square"/>
<path d="M1051.51 1024.53L1062.50 1024.55M1076.57 1024.57L1087.56 1024.59M1101.63 1024.61L1112.62 1024.63M1126.69 1024.66L1137.68 1024.67M1151.75 1024.70L1162.74 1024.72M1176.81 1024.74L1187.80 1024.76M1201.87 1024.78L1212.86 1024.80M1226.93 1024.83L1237.92 1024.85M1251.99 1024.87L1262.98 1024.89M1277.05 1024.91L1288.04 1024.93M1302.11 1024.96L1313.10 1024.98M1327.17 1025.00L1338.16 1025.02M1352.23 1025.04L1363.22 1025.06M1377.29 1025.09L1388.28 1025.10M1402.35 1025.13L1413.34 1025.15M1427.41 1025.17L1438.40 1025.19M1452.47 1025.21L1463.46 1025.23M1477.53 1025.26L1488.52 1025.28" stroke="#ffffff" stroke-opacity="0.7" stroke-width="4.5" fill="none" stroke-linecap="square"/>
<path d="M119.21 631.54L130.16 631.91M144.27 632.40L155.22 632.77M169.33 633.26L180.28 633.63M194.39 634.12L205.34 634.49M219.45 634.98L230.40 635.35M244.51 635.84L255.46 636.21M269.57 636.70L280.52 637.07M294.63 637.56L305.58 637.93M319.69 638.42L330.64 638.79M344.75 639.28L355.70 639.65M369.81 640.14L380.76 640.51M394.87 641.00L405.82 641.37M419.93 641.86L430.88 642.23M444.99 642.72L455.94 643.09M470.05 643.58L481.00 643.95M495.11 644.44L506.06 644.81M520.17 645.30L531.12 645.67M545.23 646.16L556.18 646.53" stroke="#ff6b6b" stroke-width="3.0" fill="none" stroke-linecap="butt"/>
<path d="M585.30 647.00L596.30 647.00M610.36 647.00L621.36 647.00M635.42 647.00L646.42 647.00M660.48 647.00L671.48 647.00M685.54 647.00L696.54 647.00M710.60 647.00L721.60 647.00M735.66 647.00L746.66 647.00M760.72 647.00L771.72 647.00M785.78 647.00L796.78 647.00M810.84 647.00L821.84 647.00M835.90 647.00L846.90 647.00M860.96 647.00L871.96 647.00M886.02 647.00L897.02 647.00M911.08 647.00L922.08 647.00M936.14 647.00L947.14 647.00M961.20 647.00L972.20 647.00M986.26 647.00L997.26 647.00M1011.32 647.00L1022.32 647.00" stroke="#ff6b6b" stroke-width="3.0" fill="none" stroke-linecap="butt"/>
<path d="M1051.52 647.12L1062.51 647.20M1076.58 647.30L1087.57 647.39M1101.64 647.49L1112.63 647.58M1126.70 647.68L1137.69 647.76M1151.76 647.87L1162.75 647.95M1176.82 648.06L1187.81 648.14M1201.88 648.24L1212.87 648.33M1226.94 648.43L1237.93 648.52M1252.00 648.62L1262.99 648.70M1277.06 648.81L1288.05 648.89M1302.12 649.00L1313.11 649.08M1327.18 649.19L1338.17 649.27M1352.24 649.37L1363.23 649.46M1377.30 649.56L1388.29 649.64M1402.36 649.75L1413.35 649.83M1427.42 649.94L1438.41 650.02M1452.48 650.13L1463.47 650.21M1477.54 650.31L1488.53 650.40" stroke="#ff6b6b" stroke-width="3.0" fill="none" stroke-linecap="butt"/>
<path d="M120.52 638.30L130.89 642.77M145.58 649.10L155.95 653.57M170.64 659.91L181.01 664.37M195.70 670.71L206.07 675.18M220.76 681.51L231.13 685.98M245.82 692.32L256.19 696.79M270.88 703.12L281.25 707.59M295.94 713.93L306.31 718.40M321.00 724.73L331.37 729.20M346.06 735.54L356.43 740.01M371.12 746.34L381.49 750.81M396.18 757.15L406.55 761.62M421.24 767.95L431.61 772.42M446.30 778.75L456.67 783.22M471.36 789.56L481.73 794.03M496.42 800.36L506.79 804.83M521.48 811.17L531.85 815.64M546.54 821.97L556.91 826.44" stroke="#a4a4a4" stroke-width="2.9" fill="none" stroke-linecap="butt"/>
<path d="M586.10 835.94L596.72 838.50M611.16 841.99L621.78 844.55M636.22 848.04L646.84 850.61M661.28 854.09L671.90 856.66M686.34 860.15L696.96 862.71M711.40 866.20L722.02 868.77M736.46 872.25L747.08 874.82M761.52 878.30L772.14 880.87M786.58 884.36L797.20 886.92M811.64 890.41L822.26 892.98M836.70 896.46L847.32 899.03M861.76 902.52L872.38 905.08M886.82 908.57L897.44 911.13M911.88 914.62L922.50 917.19M936.94 920.67L947.56 923.24M962.00 926.73L972.62 929.29M987.06 932.78L997.68 935.35M1012.12 938.83L1022.74 941.40" stroke="#a4a4a4" stroke-width="2.9" fill="none" stroke-linecap="butt"/>
<path d="M1052.07 947.35L1062.80 949.19M1077.13 951.65L1087.86 953.48M1102.19 955.94L1112.92 957.78M1127.25 960.23L1137.98 962.07M1152.31 964.52L1163.04 966.36M1177.37 968.82L1188.10 970.66M1202.43 973.11L1213.16 974.95M1227.49 977.40L1238.22 979.24M1252.55 981.70L1263.28 983.54M1277.61 985.99L1288.34 987.83M1302.67 990.28L1313.40 992.12M1327.73 994.58L1338.46 996.41M1352.79 998.87L1363.52 1000.71M1377.85 1003.16L1388.58 1005.00M1402.91 1007.46L1413.64 1009.29M1427.97 1011.75L1438.70 1013.59M1453.03 1016.04L1463.76 1017.88M1478.09 1020.33L1488.82 1022.17" stroke="#a4a4a4" stroke-width="2.9" fill="none" stroke-linecap="butt"/>
<path d="M121.38 643.26L131.47 650.22M146.44 660.54L156.53 667.50M171.50 677.82L181.59 684.78M196.56 695.10L206.65 702.06M221.62 712.39L231.71 719.35M246.68 729.67L256.77 736.63M271.74 746.95L281.83 753.91M296.80 764.23L306.89 771.19M321.86 781.51L331.95 788.47M346.92 798.79L357.01 805.75M371.98 816.08L382.07 823.04M397.04 833.36L407.13 840.32M422.10 850.64L432.19 857.60M447.16 867.92L457.25 874.88M472.22 885.20L482.31 892.16M497.28 902.49L507.37 909.45M522.34 919.77L532.43 926.73M547.40 937.05L557.49 944.01" stroke="#a4a4a4" stroke-width="2.9" fill="none" stroke-linecap="butt"/>
<path d="M585.75 954.69L596.54 956.17M610.81 958.13L621.60 959.61M635.87 961.57L646.66 963.05M660.93 965.01L671.72 966.49M685.99 968.45L696.78 969.93M711.05 971.89L721.84 973.37M736.11 975.33L746.90 976.81M761.17 978.77L771.96 980.25M786.23 982.21L797.02 983.69M811.29 985.65L822.08 987.13M836.35 989.09L847.14 990.57M861.41 992.53L872.20 994.01M886.47 995.97L897.26 997.45M911.53 999.41L922.32 1000.89M936.59 1002.85L947.38 1004.33M961.65 1006.29L972.44 1007.77M986.71 1009.73L997.50 1011.21M1011.77 1013.17L1022.56 1014.65" stroke="#a4a4a4" stroke-width="2.9" fill="none" stroke-linecap="butt"/>
<path d="M1051.53 1016.64L1062.52 1016.74M1076.59 1016.87L1087.58 1016.98M1101.65 1017.11L1112.64 1017.21M1126.71 1017.34L1137.70 1017.44M1151.77 1017.57L1162.76 1017.67M1176.83 1017.80L1187.82 1017.90M1201.89 1018.03L1212.88 1018.13M1226.95 1018.26L1237.94 1018.36M1252.01 1018.49L1263.00 1018.59M1277.07 1018.72L1288.06 1018.82M1302.13 1018.95L1313.12 1019.05M1327.19 1019.18L1338.18 1019.29M1352.25 1019.42L1363.24 1019.52M1377.31 1019.65L1388.30 1019.75M1402.37 1019.88L1413.36 1019.98M1427.43 1020.11L1438.42 1020.21M1452.49 1020.34L1463.48 1020.44M1477.55 1020.57L1488.54 1020.67" stroke="#a4a4a4" stroke-width="2.9" fill="none" stroke-linecap="butt"/>
<path d="M121.86 646.26L131.83 654.59M146.92 667.20L156.89 675.54M171.98 688.14L181.95 696.48M197.04 709.09L207.01 717.42M222.10 730.03L232.07 738.36M247.16 750.97L257.13 759.31M272.22 771.91L282.19 780.25M297.28 792.86L307.25 801.19M322.34 813.80L332.31 822.13M347.40 834.74L357.37 843.08M372.46 855.68L382.43 864.02M397.52 876.62L407.49 884.96M422.58 897.57L432.55 905.90M447.64 918.51L457.61 926.85M472.70 939.45L482.67 947.79M497.76 960.39L507.73 968.73M522.82 981.34L532.79 989.67M547.88 1002.28L557.85 1010.61" stroke="#a4a4a4" stroke-width="2.9" fill="none" stroke-linecap="butt"/>
<path d="M585.33 1020.73L596.31 1020.82M610.39 1020.94L621.37 1021.03M635.45 1021.15L646.43 1021.24M660.51 1021.36L671.49 1021.45M685.57 1021.57L696.55 1021.66M710.63 1021.78L721.61 1021.87M735.69 1021.99L746.67 1022.08M760.75 1022.20L771.73 1022.29M785.81 1022.41L796.79 1022.50M810.87 1022.62L821.85 1022.71M835.93 1022.83L846.91 1022.92M860.99 1023.04L871.97 1023.13M886.05 1023.25L897.03 1023.34M911.11 1023.46L922.09 1023.55M936.17 1023.66L947.15 1023.76M961.23 1023.87L972.21 1023.97M986.29 1024.08L997.27 1024.18M1011.35 1024.29L1022.33 1024.39" stroke="#a4a4a4" stroke-width="2.9" fill="none" stroke-linecap="butt"/>
<path d="M1051.51 1024.53L1062.50 1024.55M1076.57 1024.57L1087.56 1024.59M1101.63 1024.61L1112.62 1024.63M1126.69 1024.66L1137.68 1024.67M1151.75 1024.70L1162.74 1024.72M1176.81 1024.74L1187.80 1024.76M1201.87 1024.78L1212.86 1024.80M1226.93 1024.83L1237.92 1024.85M1251.99 1024.87L1262.98 1024.89M1277.05 1024.91L1288.04 1024.93M1302.11 1024.96L1313.10 1024.98M1327.17 1025.00L1338.16 1025.02M1352.23 1025.04L1363.22 1025.06M1377.29 1025.09L1388.28 1025.10M1402.35 1025.13L1413.34 1025.15M1427.41 1025.17L1438.40 1025.19M1452.47 1025.21L1463.46 1025.23M1477.53 1025.26L1488.52 1025.28" stroke="#a4a4a4" stroke-width="2.9" fill="none" stroke-linecap="butt"/>
<circle cx="103.60" cy="631.00" r="10.9" fill="#ffffff" fill-opacity="0.6"/>
<circle cx="103.60" cy="631.00" r="9.9" fill="url(#ballr)"/>
<circle cx="569.80" cy="647.00" r="10.9" fill="#ffffff" fill-opacity="0.6"/>
<circle cx="569.80" cy="647.00" r="9.9" fill="url(#ballr)"/>
<circle cx="1036.00" cy="647.00" r="10.9" fill="#ffffff" fill-opacity="0.6"/>
<circle cx="1036.00" cy="647.00" r="9.9" fill="url(#ballr)"/>
<circle cx="1502.40" cy="650.50" r="10.9" fill="#ffffff" fill-opacity="0.6"/>
<circle cx="1502.40" cy="650.50" r="9.9" fill="url(#ballr)"/>
<circle cx="103.60" cy="631.00" r="10.9" fill="#ffffff" fill-opacity="0.6"/>
<circle cx="103.60" cy="631.00" r="9.9" fill="url(#ballg)"/>
<circle cx="569.80" cy="832.00" r="10.9" fill="#ffffff" fill-opacity="0.6"/>
<circle cx="569.80" cy="832.00" r="9.9" fill="url(#ballg)"/>
<circle cx="1036.00" cy="944.60" r="10.9" fill="#ffffff" fill-opacity="0.6"/>
<circle cx="1036.00" cy="944.60" r="9.9" fill="url(#ballg)"/>
<circle cx="1502.40" cy="1024.50" r="10.9" fill="#ffffff" fill-opacity="0.6"/>
<circle cx="1502.40" cy="1024.50" r="9.9" fill="url(#ballg)"/>
<circle cx="103.60" cy="631.00" r="10.9" fill="#ffffff" fill-opacity="0.6"/>
<circle cx="103.60" cy="631.00" r="9.9" fill="url(#ballg)"/>
<circle cx="569.80" cy="952.50" r="10.9" fill="#ffffff" fill-opacity="0.6"/>
<circle cx="569.80" cy="952.50" r="9.9" fill="url(#ballg)"/>
<circle cx="1036.00" cy="1016.50" r="10.9" fill="#ffffff" fill-opacity="0.6"/>
<circle cx="1036.00" cy="1016.50" r="9.9" fill="url(#ballg)"/>
<circle cx="1502.40" cy="1020.80" r="10.9" fill="#ffffff" fill-opacity="0.6"/>
<circle cx="1502.40" cy="1020.80" r="9.9" fill="url(#ballg)"/>
<circle cx="103.60" cy="631.00" r="10.9" fill="#ffffff" fill-opacity="0.6"/>
<circle cx="103.60" cy="631.00" r="9.9" fill="url(#ballg)"/>
<circle cx="569.80" cy="1020.60" r="10.9" fill="#ffffff" fill-opacity="0.6"/>
<circle cx="569.80" cy="1020.60" r="9.9" fill="url(#ballg)"/>
<circle cx="1036.00" cy="1024.50" r="10.9" fill="#ffffff" fill-opacity="0.6"/>
<circle cx="1036.00" cy="1024.50" r="9.9" fill="url(#ballg)"/>
<circle cx="1502.40" cy="1025.30" r="10.9" fill="#ffffff" fill-opacity="0.6"/>
<circle cx="1502.40" cy="1025.30" r="9.9" fill="url(#ballg)"/>
</g>
<text x="103.60" y="1073.90" font-size="29.30" text-anchor="middle">0</text>
<text x="569.80" y="1073.90" font-size="29.30" text-anchor="middle">24</text>
<text x="1036.00" y="1073.90" font-size="29.30" text-anchor="middle">48</text>
<text x="1502.40" y="1073.90" font-size="29.30" text-anchor="middle">72</text>
<text x="85.60" y="640.00" font-size="29.30" text-anchor="end">1</text>
<text x="85.60" y="841.00" font-size="29.30" text-anchor="end">0.5</text>
<text x="85.60" y="1041.90" font-size="29.30" text-anchor="end">0</text>
<text x="745.50" y="1114.30" font-size="29.30">Time (h)</text>
<text transform="translate(20.90 1003.40) rotate(-90)" x="0" y="0" font-size="29.20">Normalized peak intensity</text>
<text x="556.52" y="693.20"><tspan font-size="25.20">CsSn</tspan><tspan font-size="16.70" dy="8.30">0.5</tspan><tspan font-size="25.20" dy="-8.30">Ge</tspan><tspan font-size="16.70" dy="8.30">0.5</tspan><tspan font-size="25.20" dy="-8.30">I</tspan><tspan font-size="16.70" dy="8.30">3</tspan></text>
<text x="556.43" y="793.20"><tspan font-size="25.20">MAPbI</tspan><tspan font-size="16.70" dy="8.30">3</tspan></text>
<text x="556.52" y="910.70"><tspan font-size="25.20">CsSnI</tspan><tspan font-size="16.70" dy="8.30">3</tspan></text>
<text x="556.52" y="998.80"><tspan font-size="25.20">CsPbI</tspan><tspan font-size="16.70" dy="8.30">3</tspan></text>
<rect x="1184.03" y="524.01" width="5.94" height="4.09" fill="#ffffff"/>
<rect x="1192.56" y="524.01" width="5.70" height="4.09" fill="#ffffff"/>
<rect x="1335.83" y="524.01" width="5.94" height="4.09" fill="#ffffff"/>
<rect x="1344.36" y="524.01" width="5.70" height="4.09" fill="#ffffff"/>
<rect x="1487.73" y="524.01" width="5.94" height="4.09" fill="#ffffff"/>
<rect x="1496.26" y="524.01" width="5.70" height="4.09" fill="#ffffff"/>
<rect x="70.73" y="636.91" width="5.94" height="4.09" fill="#ffffff"/>
<rect x="79.26" y="636.91" width="5.70" height="4.09" fill="#ffffff"/>
</svg></body></html>
